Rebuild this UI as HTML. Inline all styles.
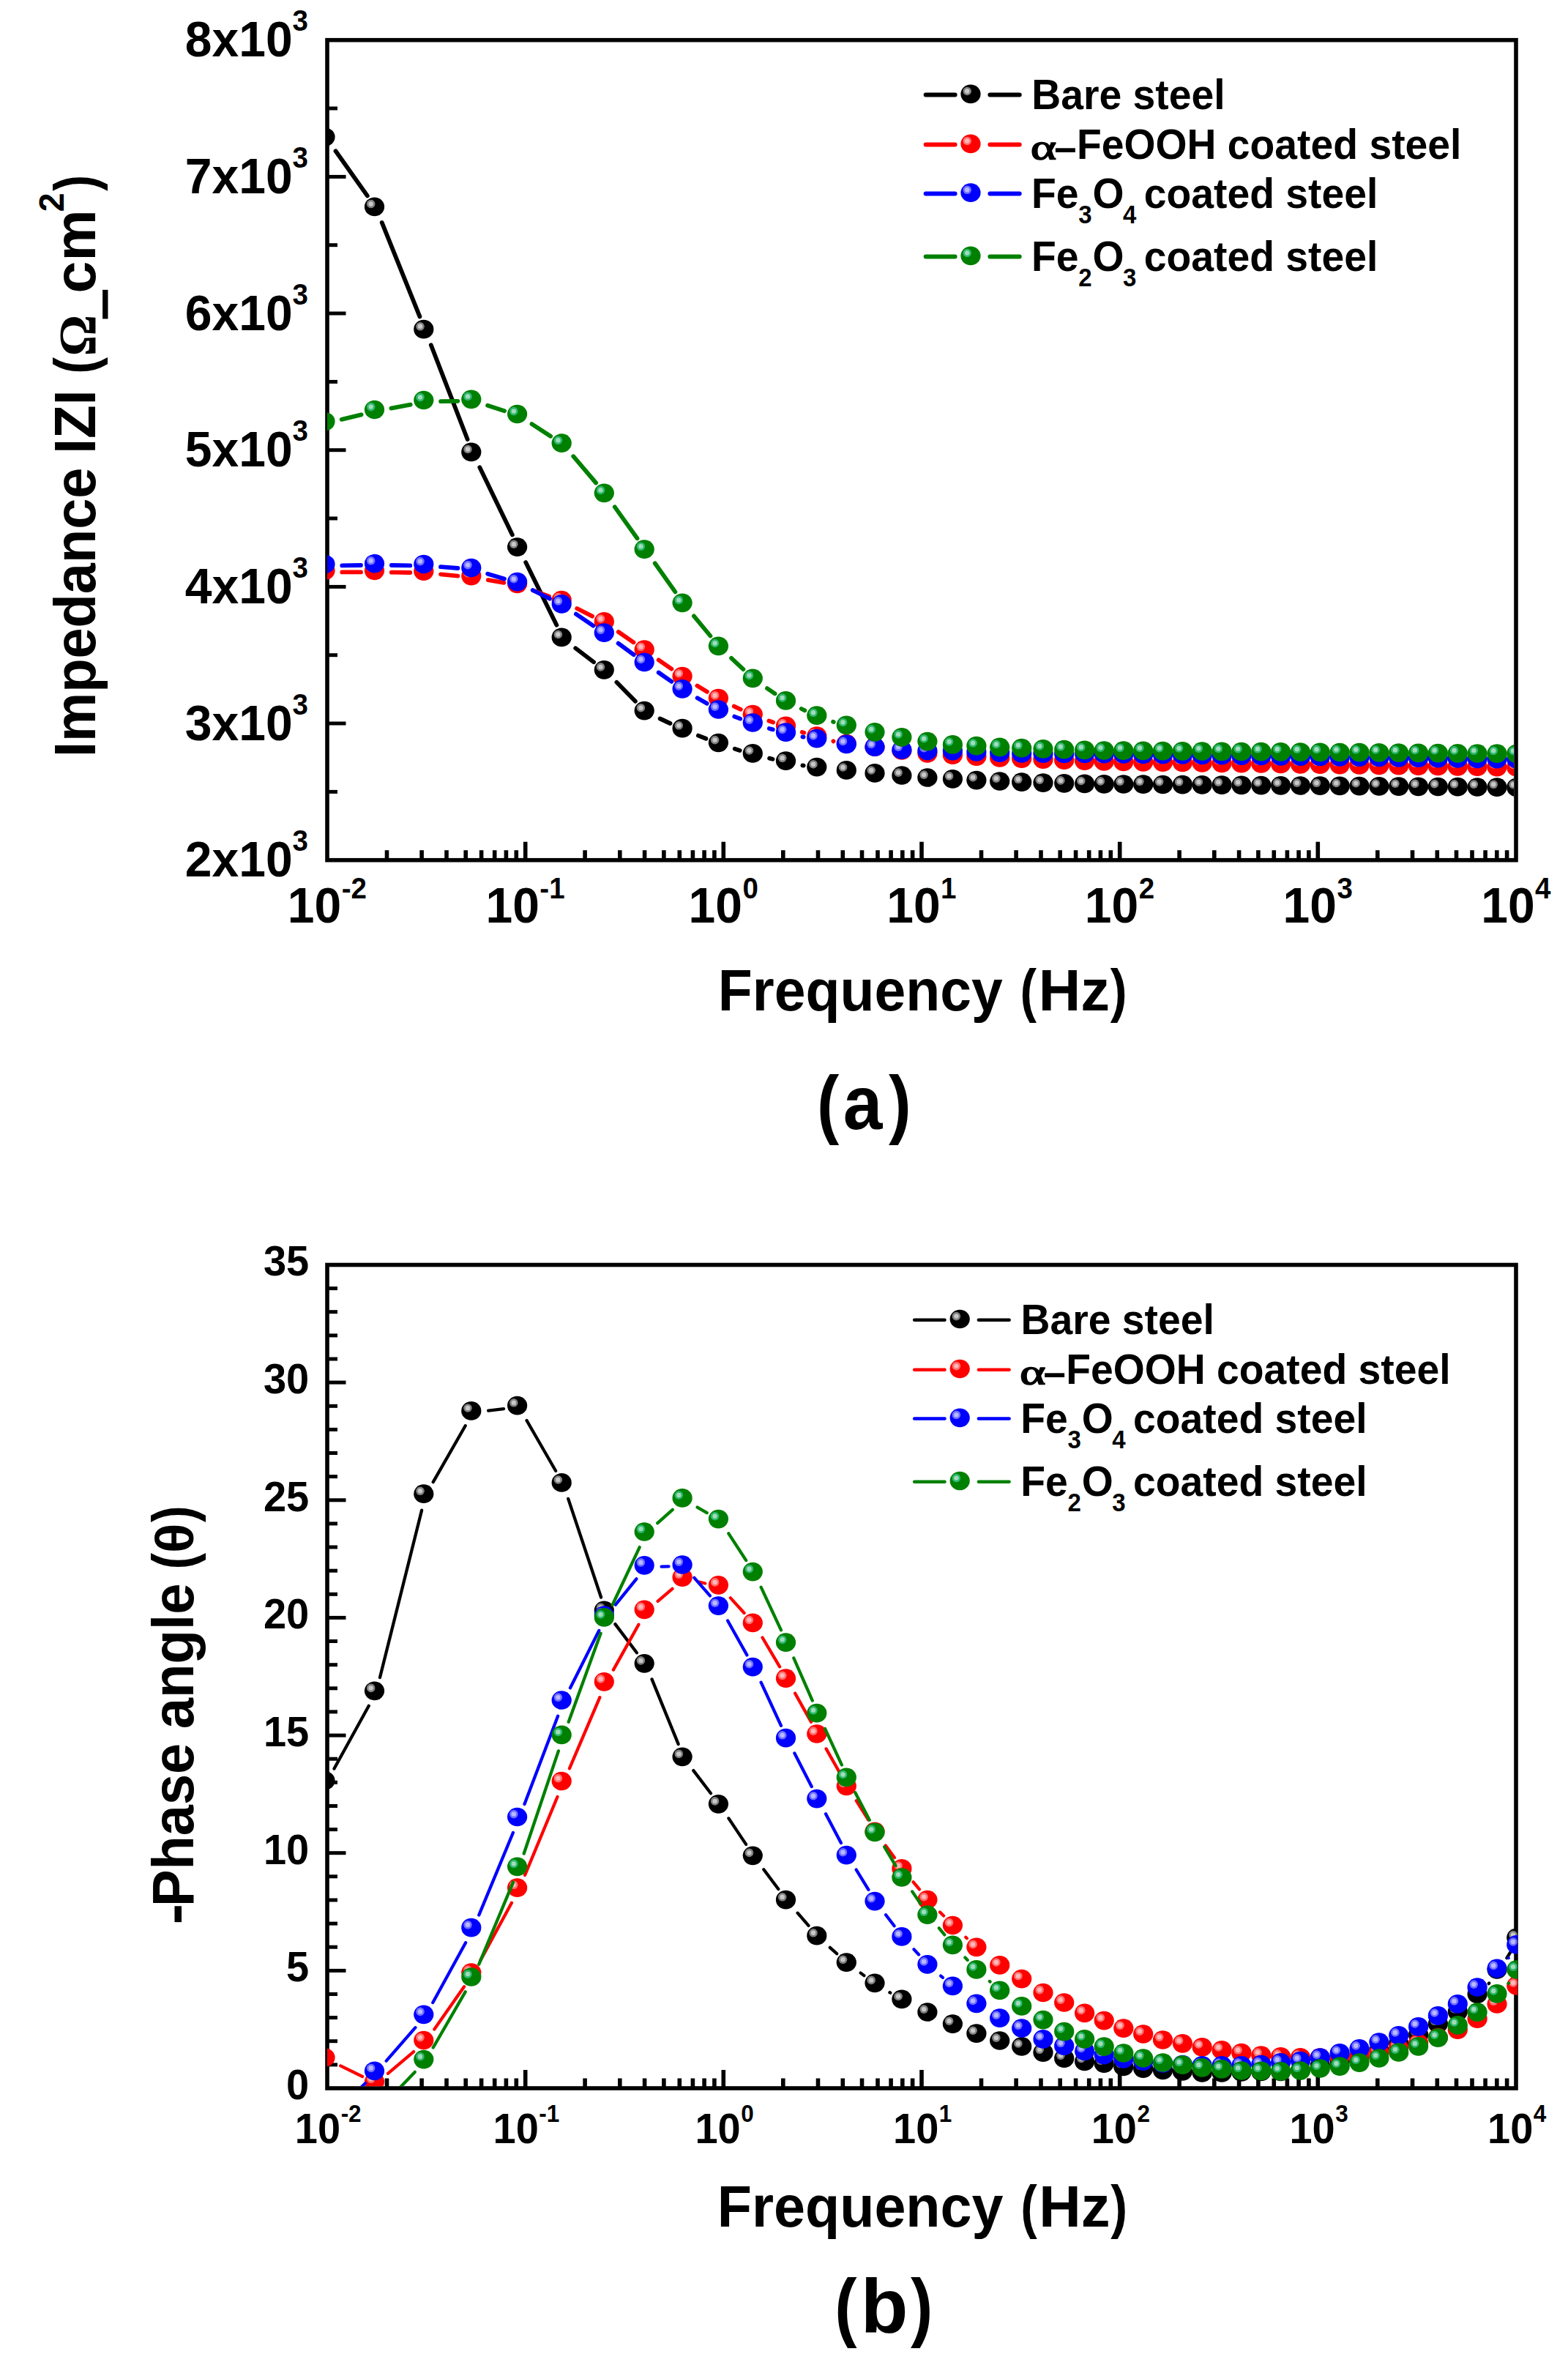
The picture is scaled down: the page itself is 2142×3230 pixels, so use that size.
<!DOCTYPE html>
<html><head><meta charset="utf-8"><title>Bode plots</title>
<style>html,body{margin:0;padding:0;background:#fff}svg{display:block}text{font-family:"Liberation Sans",sans-serif;font-weight:bold;fill:#000}.sym{font-family:"Liberation Serif",serif;font-weight:normal}</style></head><body>
<svg width="2142" height="3230" viewBox="0 0 2142 3230">
<rect x="0" y="0" width="2142" height="3230" fill="#fff"/>
<g id="plot-a">
<g stroke="#000" stroke-width="5.6" stroke-linecap="butt"><line x1="528.5" y1="1174.7" x2="528.5" y2="1161.2"/><line x1="576.1" y1="1174.7" x2="576.1" y2="1161.2"/><line x1="610.0" y1="1174.7" x2="610.0" y2="1161.2"/><line x1="636.2" y1="1174.7" x2="636.2" y2="1161.2"/><line x1="657.6" y1="1174.7" x2="657.6" y2="1161.2"/><line x1="675.7" y1="1174.7" x2="675.7" y2="1161.2"/><line x1="691.4" y1="1174.7" x2="691.4" y2="1161.2"/><line x1="705.3" y1="1174.7" x2="705.3" y2="1161.2"/><line x1="717.7" y1="1174.7" x2="717.7" y2="1149.7"/><line x1="799.1" y1="1174.7" x2="799.1" y2="1161.2"/><line x1="846.8" y1="1174.7" x2="846.8" y2="1161.2"/><line x1="880.6" y1="1174.7" x2="880.6" y2="1161.2"/><line x1="906.9" y1="1174.7" x2="906.9" y2="1161.2"/><line x1="928.3" y1="1174.7" x2="928.3" y2="1161.2"/><line x1="946.4" y1="1174.7" x2="946.4" y2="1161.2"/><line x1="962.1" y1="1174.7" x2="962.1" y2="1161.2"/><line x1="975.9" y1="1174.7" x2="975.9" y2="1161.2"/><line x1="988.3" y1="1174.7" x2="988.3" y2="1149.7"/><line x1="1069.8" y1="1174.7" x2="1069.8" y2="1161.2"/><line x1="1117.5" y1="1174.7" x2="1117.5" y2="1161.2"/><line x1="1151.3" y1="1174.7" x2="1151.3" y2="1161.2"/><line x1="1177.5" y1="1174.7" x2="1177.5" y2="1161.2"/><line x1="1199.0" y1="1174.7" x2="1199.0" y2="1161.2"/><line x1="1217.1" y1="1174.7" x2="1217.1" y2="1161.2"/><line x1="1232.8" y1="1174.7" x2="1232.8" y2="1161.2"/><line x1="1246.6" y1="1174.7" x2="1246.6" y2="1161.2"/><line x1="1259.0" y1="1174.7" x2="1259.0" y2="1149.7"/><line x1="1340.5" y1="1174.7" x2="1340.5" y2="1161.2"/><line x1="1388.1" y1="1174.7" x2="1388.1" y2="1161.2"/><line x1="1422.0" y1="1174.7" x2="1422.0" y2="1161.2"/><line x1="1448.2" y1="1174.7" x2="1448.2" y2="1161.2"/><line x1="1469.6" y1="1174.7" x2="1469.6" y2="1161.2"/><line x1="1487.7" y1="1174.7" x2="1487.7" y2="1161.2"/><line x1="1503.4" y1="1174.7" x2="1503.4" y2="1161.2"/><line x1="1517.3" y1="1174.7" x2="1517.3" y2="1161.2"/><line x1="1529.7" y1="1174.7" x2="1529.7" y2="1149.7"/><line x1="1611.1" y1="1174.7" x2="1611.1" y2="1161.2"/><line x1="1658.8" y1="1174.7" x2="1658.8" y2="1161.2"/><line x1="1692.6" y1="1174.7" x2="1692.6" y2="1161.2"/><line x1="1718.9" y1="1174.7" x2="1718.9" y2="1161.2"/><line x1="1740.3" y1="1174.7" x2="1740.3" y2="1161.2"/><line x1="1758.4" y1="1174.7" x2="1758.4" y2="1161.2"/><line x1="1774.1" y1="1174.7" x2="1774.1" y2="1161.2"/><line x1="1787.9" y1="1174.7" x2="1787.9" y2="1161.2"/><line x1="1800.3" y1="1174.7" x2="1800.3" y2="1149.7"/><line x1="1881.8" y1="1174.7" x2="1881.8" y2="1161.2"/><line x1="1929.5" y1="1174.7" x2="1929.5" y2="1161.2"/><line x1="1963.3" y1="1174.7" x2="1963.3" y2="1161.2"/><line x1="1989.5" y1="1174.7" x2="1989.5" y2="1161.2"/><line x1="2011.0" y1="1174.7" x2="2011.0" y2="1161.2"/><line x1="2029.1" y1="1174.7" x2="2029.1" y2="1161.2"/><line x1="2044.8" y1="1174.7" x2="2044.8" y2="1161.2"/><line x1="2058.6" y1="1174.7" x2="2058.6" y2="1161.2"/><line x1="447" y1="148.0" x2="461.0" y2="148.0" stroke-width="5"/><line x1="447" y1="241.4" x2="472.5" y2="241.4" stroke-width="5"/><line x1="447" y1="334.7" x2="461.0" y2="334.7" stroke-width="5"/><line x1="447" y1="428.0" x2="472.5" y2="428.0" stroke-width="5"/><line x1="447" y1="521.4" x2="461.0" y2="521.4" stroke-width="5"/><line x1="447" y1="614.7" x2="472.5" y2="614.7" stroke-width="5"/><line x1="447" y1="708.0" x2="461.0" y2="708.0" stroke-width="5"/><line x1="447" y1="801.4" x2="472.5" y2="801.4" stroke-width="5"/><line x1="447" y1="894.7" x2="461.0" y2="894.7" stroke-width="5"/><line x1="447" y1="988.0" x2="472.5" y2="988.0" stroke-width="5"/><line x1="447" y1="1081.4" x2="461.0" y2="1081.4" stroke-width="5"/></g>
<rect x="447" y="54.7" width="1624" height="1120.0" fill="none" stroke="#000" stroke-width="5.6"/>
<clipPath id="ca"><rect x="446.9" y="54.2" width="1621.2" height="1117.7"/></clipPath>
<g clip-path="url(#ca)">
<g stroke="#000000" stroke-width="5.8" stroke-linecap="round" fill="none"><path d="M458.5 206.3L501.8 267.4M521.7 303.9L573.4 432.4M588.8 471.3L638.6 600.0M655.3 638.3L699.9 730.4M718.2 768.0L760.4 853.7M786.2 885.2L811.1 904.2M842.4 931.8L867.9 957.8M901.6 981.5L915.5 988.0M953.9 1004.6L964.4 1008.8M1003.8 1022.7L1010.7 1024.9M1051.1 1035.6L1055.5 1036.7M1096.4 1045.4L1097.7 1045.6"/></g><g><ellipse cx="444.0" cy="187.1" rx="13.6" ry="12.85" fill="#000000"/><circle cx="439.2" cy="183.2" r="5.8" fill="#808080"/><circle cx="439.2" cy="183.2" r="3.2" fill="#c8c8c8"/><ellipse cx="511.5" cy="282.4" rx="13.6" ry="12.85" fill="#000000"/><circle cx="506.7" cy="278.5" r="5.8" fill="#808080"/><circle cx="506.7" cy="278.5" r="3.2" fill="#c8c8c8"/><ellipse cx="578.8" cy="449.7" rx="13.6" ry="12.85" fill="#000000"/><circle cx="574.0" cy="445.8" r="5.8" fill="#808080"/><circle cx="574.0" cy="445.8" r="3.2" fill="#c8c8c8"/><ellipse cx="643.8" cy="617.4" rx="13.6" ry="12.85" fill="#000000"/><circle cx="639.0" cy="613.5" r="5.8" fill="#808080"/><circle cx="639.0" cy="613.5" r="3.2" fill="#c8c8c8"/><ellipse cx="706.6" cy="747.1" rx="13.6" ry="12.85" fill="#000000"/><circle cx="701.8" cy="743.2" r="5.8" fill="#808080"/><circle cx="701.8" cy="743.2" r="3.2" fill="#c8c8c8"/><ellipse cx="767.2" cy="870.4" rx="13.6" ry="12.85" fill="#000000"/><circle cx="762.4" cy="866.5" r="5.8" fill="#808080"/><circle cx="762.4" cy="866.5" r="3.2" fill="#c8c8c8"/><ellipse cx="825.3" cy="914.8" rx="13.6" ry="12.85" fill="#000000"/><circle cx="820.5" cy="910.9" r="5.8" fill="#808080"/><circle cx="820.5" cy="910.9" r="3.2" fill="#c8c8c8"/><ellipse cx="880.2" cy="970.6" rx="13.6" ry="12.85" fill="#000000"/><circle cx="875.4" cy="966.7" r="5.8" fill="#808080"/><circle cx="875.4" cy="966.7" r="3.2" fill="#c8c8c8"/><ellipse cx="932.1" cy="994.7" rx="13.6" ry="12.85" fill="#000000"/><circle cx="927.3" cy="990.8" r="5.8" fill="#808080"/><circle cx="927.3" cy="990.8" r="3.2" fill="#c8c8c8"/><ellipse cx="981.4" cy="1014.5" rx="13.6" ry="12.85" fill="#000000"/><circle cx="976.6" cy="1010.6" r="5.8" fill="#808080"/><circle cx="976.6" cy="1010.6" r="3.2" fill="#c8c8c8"/><ellipse cx="1028.3" cy="1028.9" rx="13.6" ry="12.85" fill="#000000"/><circle cx="1023.5" cy="1025.0" r="5.8" fill="#808080"/><circle cx="1023.5" cy="1025.0" r="3.2" fill="#c8c8c8"/><ellipse cx="1073.5" cy="1039.2" rx="13.6" ry="12.85" fill="#000000"/><circle cx="1068.7" cy="1035.3" r="5.8" fill="#808080"/><circle cx="1068.7" cy="1035.3" r="3.2" fill="#c8c8c8"/><ellipse cx="1115.8" cy="1047.6" rx="13.6" ry="12.85" fill="#000000"/><circle cx="1111.0" cy="1043.7" r="5.8" fill="#808080"/><circle cx="1111.0" cy="1043.7" r="3.2" fill="#c8c8c8"/><ellipse cx="1156.3" cy="1051.9" rx="13.6" ry="12.85" fill="#000000"/><circle cx="1151.5" cy="1048.0" r="5.8" fill="#808080"/><circle cx="1151.5" cy="1048.0" r="3.2" fill="#c8c8c8"/><ellipse cx="1195.0" cy="1055.9" rx="13.6" ry="12.85" fill="#000000"/><circle cx="1190.2" cy="1052.0" r="5.8" fill="#808080"/><circle cx="1190.2" cy="1052.0" r="3.2" fill="#c8c8c8"/><ellipse cx="1231.9" cy="1059.0" rx="13.6" ry="12.85" fill="#000000"/><circle cx="1227.1" cy="1055.1" r="5.8" fill="#808080"/><circle cx="1227.1" cy="1055.1" r="3.2" fill="#c8c8c8"/><ellipse cx="1266.9" cy="1062.0" rx="13.6" ry="12.85" fill="#000000"/><circle cx="1262.1" cy="1058.1" r="5.8" fill="#808080"/><circle cx="1262.1" cy="1058.1" r="3.2" fill="#c8c8c8"/><ellipse cx="1301.4" cy="1063.8" rx="13.6" ry="12.85" fill="#000000"/><circle cx="1296.6" cy="1059.9" r="5.8" fill="#808080"/><circle cx="1296.6" cy="1059.9" r="3.2" fill="#c8c8c8"/><ellipse cx="1333.9" cy="1065.6" rx="13.6" ry="12.85" fill="#000000"/><circle cx="1329.1" cy="1061.7" r="5.8" fill="#808080"/><circle cx="1329.1" cy="1061.7" r="3.2" fill="#c8c8c8"/><ellipse cx="1365.7" cy="1067.0" rx="13.6" ry="12.85" fill="#000000"/><circle cx="1360.9" cy="1063.1" r="5.8" fill="#808080"/><circle cx="1360.9" cy="1063.1" r="3.2" fill="#c8c8c8"/><ellipse cx="1395.7" cy="1068.2" rx="13.6" ry="12.85" fill="#000000"/><circle cx="1390.9" cy="1064.3" r="5.8" fill="#808080"/><circle cx="1390.9" cy="1064.3" r="3.2" fill="#c8c8c8"/><ellipse cx="1425.0" cy="1069.1" rx="13.6" ry="12.85" fill="#000000"/><circle cx="1420.2" cy="1065.2" r="5.8" fill="#808080"/><circle cx="1420.2" cy="1065.2" r="3.2" fill="#c8c8c8"/><ellipse cx="1453.7" cy="1069.8" rx="13.6" ry="12.85" fill="#000000"/><circle cx="1448.9" cy="1065.9" r="5.8" fill="#808080"/><circle cx="1448.9" cy="1065.9" r="3.2" fill="#c8c8c8"/><ellipse cx="1481.6" cy="1070.4" rx="13.6" ry="12.85" fill="#000000"/><circle cx="1476.8" cy="1066.5" r="5.8" fill="#808080"/><circle cx="1476.8" cy="1066.5" r="3.2" fill="#c8c8c8"/><ellipse cx="1508.2" cy="1070.8" rx="13.6" ry="12.85" fill="#000000"/><circle cx="1503.4" cy="1066.9" r="5.8" fill="#808080"/><circle cx="1503.4" cy="1066.9" r="3.2" fill="#c8c8c8"/><ellipse cx="1534.8" cy="1071.0" rx="13.6" ry="12.85" fill="#000000"/><circle cx="1530.0" cy="1067.1" r="5.8" fill="#808080"/><circle cx="1530.0" cy="1067.1" r="3.2" fill="#c8c8c8"/><ellipse cx="1561.7" cy="1071.2" rx="13.6" ry="12.85" fill="#000000"/><circle cx="1556.9" cy="1067.3" r="5.8" fill="#808080"/><circle cx="1556.9" cy="1067.3" r="3.2" fill="#c8c8c8"/><ellipse cx="1588.5" cy="1071.5" rx="13.6" ry="12.85" fill="#000000"/><circle cx="1583.7" cy="1067.6" r="5.8" fill="#808080"/><circle cx="1583.7" cy="1067.6" r="3.2" fill="#c8c8c8"/><ellipse cx="1615.4" cy="1071.7" rx="13.6" ry="12.85" fill="#000000"/><circle cx="1610.6" cy="1067.8" r="5.8" fill="#808080"/><circle cx="1610.6" cy="1067.8" r="3.2" fill="#c8c8c8"/><ellipse cx="1642.2" cy="1071.9" rx="13.6" ry="12.85" fill="#000000"/><circle cx="1637.4" cy="1068.0" r="5.8" fill="#808080"/><circle cx="1637.4" cy="1068.0" r="3.2" fill="#c8c8c8"/><ellipse cx="1669.1" cy="1072.1" rx="13.6" ry="12.85" fill="#000000"/><circle cx="1664.3" cy="1068.2" r="5.8" fill="#808080"/><circle cx="1664.3" cy="1068.2" r="3.2" fill="#c8c8c8"/><ellipse cx="1695.9" cy="1072.3" rx="13.6" ry="12.85" fill="#000000"/><circle cx="1691.1" cy="1068.4" r="5.8" fill="#808080"/><circle cx="1691.1" cy="1068.4" r="3.2" fill="#c8c8c8"/><ellipse cx="1722.8" cy="1072.6" rx="13.6" ry="12.85" fill="#000000"/><circle cx="1718.0" cy="1068.7" r="5.8" fill="#808080"/><circle cx="1718.0" cy="1068.7" r="3.2" fill="#c8c8c8"/><ellipse cx="1749.6" cy="1072.8" rx="13.6" ry="12.85" fill="#000000"/><circle cx="1744.8" cy="1068.9" r="5.8" fill="#808080"/><circle cx="1744.8" cy="1068.9" r="3.2" fill="#c8c8c8"/><ellipse cx="1776.5" cy="1073.0" rx="13.6" ry="12.85" fill="#000000"/><circle cx="1771.7" cy="1069.1" r="5.8" fill="#808080"/><circle cx="1771.7" cy="1069.1" r="3.2" fill="#c8c8c8"/><ellipse cx="1803.3" cy="1073.2" rx="13.6" ry="12.85" fill="#000000"/><circle cx="1798.5" cy="1069.3" r="5.8" fill="#808080"/><circle cx="1798.5" cy="1069.3" r="3.2" fill="#c8c8c8"/><ellipse cx="1830.2" cy="1073.4" rx="13.6" ry="12.85" fill="#000000"/><circle cx="1825.4" cy="1069.5" r="5.8" fill="#808080"/><circle cx="1825.4" cy="1069.5" r="3.2" fill="#c8c8c8"/><ellipse cx="1857.0" cy="1073.6" rx="13.6" ry="12.85" fill="#000000"/><circle cx="1852.2" cy="1069.7" r="5.8" fill="#808080"/><circle cx="1852.2" cy="1069.7" r="3.2" fill="#c8c8c8"/><ellipse cx="1883.9" cy="1073.9" rx="13.6" ry="12.85" fill="#000000"/><circle cx="1879.1" cy="1070.0" r="5.8" fill="#808080"/><circle cx="1879.1" cy="1070.0" r="3.2" fill="#c8c8c8"/><ellipse cx="1910.7" cy="1074.1" rx="13.6" ry="12.85" fill="#000000"/><circle cx="1905.9" cy="1070.2" r="5.8" fill="#808080"/><circle cx="1905.9" cy="1070.2" r="3.2" fill="#c8c8c8"/><ellipse cx="1937.6" cy="1074.3" rx="13.6" ry="12.85" fill="#000000"/><circle cx="1932.8" cy="1070.4" r="5.8" fill="#808080"/><circle cx="1932.8" cy="1070.4" r="3.2" fill="#c8c8c8"/><ellipse cx="1964.4" cy="1074.5" rx="13.6" ry="12.85" fill="#000000"/><circle cx="1959.6" cy="1070.6" r="5.8" fill="#808080"/><circle cx="1959.6" cy="1070.6" r="3.2" fill="#c8c8c8"/><ellipse cx="1991.3" cy="1074.7" rx="13.6" ry="12.85" fill="#000000"/><circle cx="1986.5" cy="1070.8" r="5.8" fill="#808080"/><circle cx="1986.5" cy="1070.8" r="3.2" fill="#c8c8c8"/><ellipse cx="2018.1" cy="1075.0" rx="13.6" ry="12.85" fill="#000000"/><circle cx="2013.3" cy="1071.1" r="5.8" fill="#808080"/><circle cx="2013.3" cy="1071.1" r="3.2" fill="#c8c8c8"/><ellipse cx="2045.0" cy="1075.2" rx="13.6" ry="12.85" fill="#000000"/><circle cx="2040.2" cy="1071.3" r="5.8" fill="#808080"/><circle cx="2040.2" cy="1071.3" r="3.2" fill="#c8c8c8"/><ellipse cx="2071.8" cy="1075.4" rx="13.6" ry="12.85" fill="#000000"/><circle cx="2067.0" cy="1071.5" r="5.8" fill="#808080"/><circle cx="2067.0" cy="1071.5" r="3.2" fill="#c8c8c8"/></g>
<g stroke="#ff0000" stroke-width="5.8" stroke-linecap="round" fill="none"><path d="M467.3 781.4L493.0 781.4M534.8 781.7L560.3 782.0M602.0 784.3L625.4 786.7M666.8 792.2L688.4 795.9M728.6 806.6L750.0 814.4M788.2 831.0L809.1 841.6M844.8 863.0L865.5 877.3M899.7 901.3L917.4 913.7M952.4 936.6L965.9 944.8M1002.7 964.6L1011.8 968.8M1050.4 984.6L1056.2 986.6M1095.8 999.9L1098.3 1000.7M1138.4 1012.3L1138.5 1012.4"/></g><g><ellipse cx="444.0" cy="779.3" rx="13.6" ry="12.85" fill="#ff0000"/><circle cx="439.2" cy="775.4" r="5.8" fill="#ff7070"/><circle cx="439.2" cy="775.4" r="3.2" fill="#ffb8b8"/><ellipse cx="511.5" cy="779.3" rx="13.6" ry="12.85" fill="#ff0000"/><circle cx="506.7" cy="775.4" r="5.8" fill="#ff7070"/><circle cx="506.7" cy="775.4" r="3.2" fill="#ffb8b8"/><ellipse cx="578.8" cy="780.2" rx="13.6" ry="12.85" fill="#ff0000"/><circle cx="574.0" cy="776.3" r="5.8" fill="#ff7070"/><circle cx="574.0" cy="776.3" r="3.2" fill="#ffb8b8"/><ellipse cx="643.8" cy="786.6" rx="13.6" ry="12.85" fill="#ff0000"/><circle cx="639.0" cy="782.7" r="5.8" fill="#ff7070"/><circle cx="639.0" cy="782.7" r="3.2" fill="#ffb8b8"/><ellipse cx="706.6" cy="797.3" rx="13.6" ry="12.85" fill="#ff0000"/><circle cx="701.8" cy="793.4" r="5.8" fill="#ff7070"/><circle cx="701.8" cy="793.4" r="3.2" fill="#ffb8b8"/><ellipse cx="767.2" cy="819.5" rx="13.6" ry="12.85" fill="#ff0000"/><circle cx="762.4" cy="815.6" r="5.8" fill="#ff7070"/><circle cx="762.4" cy="815.6" r="3.2" fill="#ffb8b8"/><ellipse cx="825.3" cy="848.9" rx="13.6" ry="12.85" fill="#ff0000"/><circle cx="820.5" cy="845.0" r="5.8" fill="#ff7070"/><circle cx="820.5" cy="845.0" r="3.2" fill="#ffb8b8"/><ellipse cx="880.2" cy="887.2" rx="13.6" ry="12.85" fill="#ff0000"/><circle cx="875.4" cy="883.3" r="5.8" fill="#ff7070"/><circle cx="875.4" cy="883.3" r="3.2" fill="#ffb8b8"/><ellipse cx="932.1" cy="923.6" rx="13.6" ry="12.85" fill="#ff0000"/><circle cx="927.3" cy="919.7" r="5.8" fill="#ff7070"/><circle cx="927.3" cy="919.7" r="3.2" fill="#ffb8b8"/><ellipse cx="981.4" cy="953.6" rx="13.6" ry="12.85" fill="#ff0000"/><circle cx="976.6" cy="949.7" r="5.8" fill="#ff7070"/><circle cx="976.6" cy="949.7" r="3.2" fill="#ffb8b8"/><ellipse cx="1028.3" cy="975.6" rx="13.6" ry="12.85" fill="#ff0000"/><circle cx="1023.5" cy="971.7" r="5.8" fill="#ff7070"/><circle cx="1023.5" cy="971.7" r="3.2" fill="#ffb8b8"/><ellipse cx="1073.5" cy="991.4" rx="13.6" ry="12.85" fill="#ff0000"/><circle cx="1068.7" cy="987.5" r="5.8" fill="#ff7070"/><circle cx="1068.7" cy="987.5" r="3.2" fill="#ffb8b8"/><ellipse cx="1115.8" cy="1005.0" rx="13.6" ry="12.85" fill="#ff0000"/><circle cx="1111.0" cy="1001.1" r="5.8" fill="#ff7070"/><circle cx="1111.0" cy="1001.1" r="3.2" fill="#ffb8b8"/><ellipse cx="1156.3" cy="1015.5" rx="13.6" ry="12.85" fill="#ff0000"/><circle cx="1151.5" cy="1011.6" r="5.8" fill="#ff7070"/><circle cx="1151.5" cy="1011.6" r="3.2" fill="#ffb8b8"/><ellipse cx="1195.0" cy="1020.2" rx="13.6" ry="12.85" fill="#ff0000"/><circle cx="1190.2" cy="1016.3" r="5.8" fill="#ff7070"/><circle cx="1190.2" cy="1016.3" r="3.2" fill="#ffb8b8"/><ellipse cx="1231.9" cy="1025.0" rx="13.6" ry="12.85" fill="#ff0000"/><circle cx="1227.1" cy="1021.1" r="5.8" fill="#ff7070"/><circle cx="1227.1" cy="1021.1" r="3.2" fill="#ffb8b8"/><ellipse cx="1266.9" cy="1028.8" rx="13.6" ry="12.85" fill="#ff0000"/><circle cx="1262.1" cy="1024.9" r="5.8" fill="#ff7070"/><circle cx="1262.1" cy="1024.9" r="3.2" fill="#ffb8b8"/><ellipse cx="1301.4" cy="1031.2" rx="13.6" ry="12.85" fill="#ff0000"/><circle cx="1296.6" cy="1027.3" r="5.8" fill="#ff7070"/><circle cx="1296.6" cy="1027.3" r="3.2" fill="#ffb8b8"/><ellipse cx="1333.9" cy="1033.2" rx="13.6" ry="12.85" fill="#ff0000"/><circle cx="1329.1" cy="1029.3" r="5.8" fill="#ff7070"/><circle cx="1329.1" cy="1029.3" r="3.2" fill="#ffb8b8"/><ellipse cx="1365.7" cy="1034.9" rx="13.6" ry="12.85" fill="#ff0000"/><circle cx="1360.9" cy="1031.0" r="5.8" fill="#ff7070"/><circle cx="1360.9" cy="1031.0" r="3.2" fill="#ffb8b8"/><ellipse cx="1395.7" cy="1036.1" rx="13.6" ry="12.85" fill="#ff0000"/><circle cx="1390.9" cy="1032.2" r="5.8" fill="#ff7070"/><circle cx="1390.9" cy="1032.2" r="3.2" fill="#ffb8b8"/><ellipse cx="1425.0" cy="1037.2" rx="13.6" ry="12.85" fill="#ff0000"/><circle cx="1420.2" cy="1033.3" r="5.8" fill="#ff7070"/><circle cx="1420.2" cy="1033.3" r="3.2" fill="#ffb8b8"/><ellipse cx="1453.7" cy="1038.2" rx="13.6" ry="12.85" fill="#ff0000"/><circle cx="1448.9" cy="1034.3" r="5.8" fill="#ff7070"/><circle cx="1448.9" cy="1034.3" r="3.2" fill="#ffb8b8"/><ellipse cx="1481.6" cy="1039.1" rx="13.6" ry="12.85" fill="#ff0000"/><circle cx="1476.8" cy="1035.2" r="5.8" fill="#ff7070"/><circle cx="1476.8" cy="1035.2" r="3.2" fill="#ffb8b8"/><ellipse cx="1508.2" cy="1040.0" rx="13.6" ry="12.85" fill="#ff0000"/><circle cx="1503.4" cy="1036.1" r="5.8" fill="#ff7070"/><circle cx="1503.4" cy="1036.1" r="3.2" fill="#ffb8b8"/><ellipse cx="1534.8" cy="1040.4" rx="13.6" ry="12.85" fill="#ff0000"/><circle cx="1530.0" cy="1036.5" r="5.8" fill="#ff7070"/><circle cx="1530.0" cy="1036.5" r="3.2" fill="#ffb8b8"/><ellipse cx="1561.7" cy="1040.8" rx="13.6" ry="12.85" fill="#ff0000"/><circle cx="1556.9" cy="1036.9" r="5.8" fill="#ff7070"/><circle cx="1556.9" cy="1036.9" r="3.2" fill="#ffb8b8"/><ellipse cx="1588.5" cy="1041.1" rx="13.6" ry="12.85" fill="#ff0000"/><circle cx="1583.7" cy="1037.2" r="5.8" fill="#ff7070"/><circle cx="1583.7" cy="1037.2" r="3.2" fill="#ffb8b8"/><ellipse cx="1615.4" cy="1041.5" rx="13.6" ry="12.85" fill="#ff0000"/><circle cx="1610.6" cy="1037.6" r="5.8" fill="#ff7070"/><circle cx="1610.6" cy="1037.6" r="3.2" fill="#ffb8b8"/><ellipse cx="1642.2" cy="1041.9" rx="13.6" ry="12.85" fill="#ff0000"/><circle cx="1637.4" cy="1038.0" r="5.8" fill="#ff7070"/><circle cx="1637.4" cy="1038.0" r="3.2" fill="#ffb8b8"/><ellipse cx="1669.1" cy="1042.3" rx="13.6" ry="12.85" fill="#ff0000"/><circle cx="1664.3" cy="1038.4" r="5.8" fill="#ff7070"/><circle cx="1664.3" cy="1038.4" r="3.2" fill="#ffb8b8"/><ellipse cx="1695.9" cy="1042.7" rx="13.6" ry="12.85" fill="#ff0000"/><circle cx="1691.1" cy="1038.8" r="5.8" fill="#ff7070"/><circle cx="1691.1" cy="1038.8" r="3.2" fill="#ffb8b8"/><ellipse cx="1722.8" cy="1043.0" rx="13.6" ry="12.85" fill="#ff0000"/><circle cx="1718.0" cy="1039.1" r="5.8" fill="#ff7070"/><circle cx="1718.0" cy="1039.1" r="3.2" fill="#ffb8b8"/><ellipse cx="1749.6" cy="1043.4" rx="13.6" ry="12.85" fill="#ff0000"/><circle cx="1744.8" cy="1039.5" r="5.8" fill="#ff7070"/><circle cx="1744.8" cy="1039.5" r="3.2" fill="#ffb8b8"/><ellipse cx="1776.5" cy="1043.8" rx="13.6" ry="12.85" fill="#ff0000"/><circle cx="1771.7" cy="1039.9" r="5.8" fill="#ff7070"/><circle cx="1771.7" cy="1039.9" r="3.2" fill="#ffb8b8"/><ellipse cx="1803.3" cy="1044.2" rx="13.6" ry="12.85" fill="#ff0000"/><circle cx="1798.5" cy="1040.3" r="5.8" fill="#ff7070"/><circle cx="1798.5" cy="1040.3" r="3.2" fill="#ffb8b8"/><ellipse cx="1830.2" cy="1044.6" rx="13.6" ry="12.85" fill="#ff0000"/><circle cx="1825.4" cy="1040.7" r="5.8" fill="#ff7070"/><circle cx="1825.4" cy="1040.7" r="3.2" fill="#ffb8b8"/><ellipse cx="1857.0" cy="1045.0" rx="13.6" ry="12.85" fill="#ff0000"/><circle cx="1852.2" cy="1041.1" r="5.8" fill="#ff7070"/><circle cx="1852.2" cy="1041.1" r="3.2" fill="#ffb8b8"/><ellipse cx="1883.9" cy="1045.3" rx="13.6" ry="12.85" fill="#ff0000"/><circle cx="1879.1" cy="1041.4" r="5.8" fill="#ff7070"/><circle cx="1879.1" cy="1041.4" r="3.2" fill="#ffb8b8"/><ellipse cx="1910.7" cy="1045.7" rx="13.6" ry="12.85" fill="#ff0000"/><circle cx="1905.9" cy="1041.8" r="5.8" fill="#ff7070"/><circle cx="1905.9" cy="1041.8" r="3.2" fill="#ffb8b8"/><ellipse cx="1937.6" cy="1046.1" rx="13.6" ry="12.85" fill="#ff0000"/><circle cx="1932.8" cy="1042.2" r="5.8" fill="#ff7070"/><circle cx="1932.8" cy="1042.2" r="3.2" fill="#ffb8b8"/><ellipse cx="1964.4" cy="1046.5" rx="13.6" ry="12.85" fill="#ff0000"/><circle cx="1959.6" cy="1042.6" r="5.8" fill="#ff7070"/><circle cx="1959.6" cy="1042.6" r="3.2" fill="#ffb8b8"/><ellipse cx="1991.3" cy="1046.9" rx="13.6" ry="12.85" fill="#ff0000"/><circle cx="1986.5" cy="1043.0" r="5.8" fill="#ff7070"/><circle cx="1986.5" cy="1043.0" r="3.2" fill="#ffb8b8"/><ellipse cx="2018.1" cy="1047.2" rx="13.6" ry="12.85" fill="#ff0000"/><circle cx="2013.3" cy="1043.3" r="5.8" fill="#ff7070"/><circle cx="2013.3" cy="1043.3" r="3.2" fill="#ffb8b8"/><ellipse cx="2045.0" cy="1047.6" rx="13.6" ry="12.85" fill="#ff0000"/><circle cx="2040.2" cy="1043.7" r="5.8" fill="#ff7070"/><circle cx="2040.2" cy="1043.7" r="3.2" fill="#ffb8b8"/><ellipse cx="2071.8" cy="1048.0" rx="13.6" ry="12.85" fill="#ff0000"/><circle cx="2067.0" cy="1044.1" r="5.8" fill="#ff7070"/><circle cx="2067.0" cy="1044.1" r="3.2" fill="#ffb8b8"/></g>
<g stroke="#0000ff" stroke-width="5.8" stroke-linecap="round" fill="none"><path d="M467.3 772.4L493.0 772.0M534.8 772.0L560.3 772.4M602.0 774.2L625.4 776.0M666.2 783.7L689.0 790.6M727.7 806.0L750.9 817.6M786.9 838.6L810.4 854.6M844.6 878.6L865.7 894.2M899.7 918.5L917.4 930.9M952.6 953.3L965.7 960.7M1003.3 978.6L1011.2 981.6M1050.8 995.0L1055.8 996.4M1096.4 1006.4L1097.7 1006.6"/></g><g><ellipse cx="444.0" cy="770.5" rx="13.6" ry="12.85" fill="#0000ff"/><circle cx="439.2" cy="766.6" r="5.8" fill="#7070ff"/><circle cx="439.2" cy="766.6" r="3.2" fill="#b8b8ff"/><ellipse cx="511.5" cy="769.7" rx="13.6" ry="12.85" fill="#0000ff"/><circle cx="506.7" cy="765.8" r="5.8" fill="#7070ff"/><circle cx="506.7" cy="765.8" r="3.2" fill="#b8b8ff"/><ellipse cx="578.8" cy="770.5" rx="13.6" ry="12.85" fill="#0000ff"/><circle cx="574.0" cy="766.6" r="5.8" fill="#7070ff"/><circle cx="574.0" cy="766.6" r="3.2" fill="#b8b8ff"/><ellipse cx="643.8" cy="775.5" rx="13.6" ry="12.85" fill="#0000ff"/><circle cx="639.0" cy="771.6" r="5.8" fill="#7070ff"/><circle cx="639.0" cy="771.6" r="3.2" fill="#b8b8ff"/><ellipse cx="706.6" cy="794.6" rx="13.6" ry="12.85" fill="#0000ff"/><circle cx="701.8" cy="790.7" r="5.8" fill="#7070ff"/><circle cx="701.8" cy="790.7" r="3.2" fill="#b8b8ff"/><ellipse cx="767.2" cy="824.8" rx="13.6" ry="12.85" fill="#0000ff"/><circle cx="762.4" cy="820.9" r="5.8" fill="#7070ff"/><circle cx="762.4" cy="820.9" r="3.2" fill="#b8b8ff"/><ellipse cx="825.3" cy="864.2" rx="13.6" ry="12.85" fill="#0000ff"/><circle cx="820.5" cy="860.3" r="5.8" fill="#7070ff"/><circle cx="820.5" cy="860.3" r="3.2" fill="#b8b8ff"/><ellipse cx="880.2" cy="904.4" rx="13.6" ry="12.85" fill="#0000ff"/><circle cx="875.4" cy="900.5" r="5.8" fill="#7070ff"/><circle cx="875.4" cy="900.5" r="3.2" fill="#b8b8ff"/><ellipse cx="932.1" cy="940.8" rx="13.6" ry="12.85" fill="#0000ff"/><circle cx="927.3" cy="936.9" r="5.8" fill="#7070ff"/><circle cx="927.3" cy="936.9" r="3.2" fill="#b8b8ff"/><ellipse cx="981.4" cy="969.0" rx="13.6" ry="12.85" fill="#0000ff"/><circle cx="976.6" cy="965.1" r="5.8" fill="#7070ff"/><circle cx="976.6" cy="965.1" r="3.2" fill="#b8b8ff"/><ellipse cx="1028.3" cy="987.0" rx="13.6" ry="12.85" fill="#0000ff"/><circle cx="1023.5" cy="983.1" r="5.8" fill="#7070ff"/><circle cx="1023.5" cy="983.1" r="3.2" fill="#b8b8ff"/><ellipse cx="1073.5" cy="1000.2" rx="13.6" ry="12.85" fill="#0000ff"/><circle cx="1068.7" cy="996.3" r="5.8" fill="#7070ff"/><circle cx="1068.7" cy="996.3" r="3.2" fill="#b8b8ff"/><ellipse cx="1115.8" cy="1008.6" rx="13.6" ry="12.85" fill="#0000ff"/><circle cx="1111.0" cy="1004.7" r="5.8" fill="#7070ff"/><circle cx="1111.0" cy="1004.7" r="3.2" fill="#b8b8ff"/><ellipse cx="1156.3" cy="1016.3" rx="13.6" ry="12.85" fill="#0000ff"/><circle cx="1151.5" cy="1012.4" r="5.8" fill="#7070ff"/><circle cx="1151.5" cy="1012.4" r="3.2" fill="#b8b8ff"/><ellipse cx="1195.0" cy="1020.2" rx="13.6" ry="12.85" fill="#0000ff"/><circle cx="1190.2" cy="1016.3" r="5.8" fill="#7070ff"/><circle cx="1190.2" cy="1016.3" r="3.2" fill="#b8b8ff"/><ellipse cx="1231.9" cy="1024.0" rx="13.6" ry="12.85" fill="#0000ff"/><circle cx="1227.1" cy="1020.1" r="5.8" fill="#7070ff"/><circle cx="1227.1" cy="1020.1" r="3.2" fill="#b8b8ff"/><ellipse cx="1266.9" cy="1025.5" rx="13.6" ry="12.85" fill="#0000ff"/><circle cx="1262.1" cy="1021.6" r="5.8" fill="#7070ff"/><circle cx="1262.1" cy="1021.6" r="3.2" fill="#b8b8ff"/><ellipse cx="1301.4" cy="1025.6" rx="13.6" ry="12.85" fill="#0000ff"/><circle cx="1296.6" cy="1021.7" r="5.8" fill="#7070ff"/><circle cx="1296.6" cy="1021.7" r="3.2" fill="#b8b8ff"/><ellipse cx="1333.9" cy="1026.9" rx="13.6" ry="12.85" fill="#0000ff"/><circle cx="1329.1" cy="1023.0" r="5.8" fill="#7070ff"/><circle cx="1329.1" cy="1023.0" r="3.2" fill="#b8b8ff"/><ellipse cx="1365.7" cy="1028.1" rx="13.6" ry="12.85" fill="#0000ff"/><circle cx="1360.9" cy="1024.2" r="5.8" fill="#7070ff"/><circle cx="1360.9" cy="1024.2" r="3.2" fill="#b8b8ff"/><ellipse cx="1395.7" cy="1028.9" rx="13.6" ry="12.85" fill="#0000ff"/><circle cx="1390.9" cy="1025.0" r="5.8" fill="#7070ff"/><circle cx="1390.9" cy="1025.0" r="3.2" fill="#b8b8ff"/><ellipse cx="1425.0" cy="1029.2" rx="13.6" ry="12.85" fill="#0000ff"/><circle cx="1420.2" cy="1025.3" r="5.8" fill="#7070ff"/><circle cx="1420.2" cy="1025.3" r="3.2" fill="#b8b8ff"/><ellipse cx="1453.7" cy="1029.4" rx="13.6" ry="12.85" fill="#0000ff"/><circle cx="1448.9" cy="1025.5" r="5.8" fill="#7070ff"/><circle cx="1448.9" cy="1025.5" r="3.2" fill="#b8b8ff"/><ellipse cx="1481.6" cy="1029.5" rx="13.6" ry="12.85" fill="#0000ff"/><circle cx="1476.8" cy="1025.6" r="5.8" fill="#7070ff"/><circle cx="1476.8" cy="1025.6" r="3.2" fill="#b8b8ff"/><ellipse cx="1508.2" cy="1029.6" rx="13.6" ry="12.85" fill="#0000ff"/><circle cx="1503.4" cy="1025.7" r="5.8" fill="#7070ff"/><circle cx="1503.4" cy="1025.7" r="3.2" fill="#b8b8ff"/><ellipse cx="1534.8" cy="1030.0" rx="13.6" ry="12.85" fill="#0000ff"/><circle cx="1530.0" cy="1026.1" r="5.8" fill="#7070ff"/><circle cx="1530.0" cy="1026.1" r="3.2" fill="#b8b8ff"/><ellipse cx="1561.7" cy="1030.3" rx="13.6" ry="12.85" fill="#0000ff"/><circle cx="1556.9" cy="1026.4" r="5.8" fill="#7070ff"/><circle cx="1556.9" cy="1026.4" r="3.2" fill="#b8b8ff"/><ellipse cx="1588.5" cy="1030.7" rx="13.6" ry="12.85" fill="#0000ff"/><circle cx="1583.7" cy="1026.8" r="5.8" fill="#7070ff"/><circle cx="1583.7" cy="1026.8" r="3.2" fill="#b8b8ff"/><ellipse cx="1615.4" cy="1031.0" rx="13.6" ry="12.85" fill="#0000ff"/><circle cx="1610.6" cy="1027.1" r="5.8" fill="#7070ff"/><circle cx="1610.6" cy="1027.1" r="3.2" fill="#b8b8ff"/><ellipse cx="1642.2" cy="1031.4" rx="13.6" ry="12.85" fill="#0000ff"/><circle cx="1637.4" cy="1027.5" r="5.8" fill="#7070ff"/><circle cx="1637.4" cy="1027.5" r="3.2" fill="#b8b8ff"/><ellipse cx="1669.1" cy="1031.7" rx="13.6" ry="12.85" fill="#0000ff"/><circle cx="1664.3" cy="1027.8" r="5.8" fill="#7070ff"/><circle cx="1664.3" cy="1027.8" r="3.2" fill="#b8b8ff"/><ellipse cx="1695.9" cy="1032.1" rx="13.6" ry="12.85" fill="#0000ff"/><circle cx="1691.1" cy="1028.2" r="5.8" fill="#7070ff"/><circle cx="1691.1" cy="1028.2" r="3.2" fill="#b8b8ff"/><ellipse cx="1722.8" cy="1032.4" rx="13.6" ry="12.85" fill="#0000ff"/><circle cx="1718.0" cy="1028.5" r="5.8" fill="#7070ff"/><circle cx="1718.0" cy="1028.5" r="3.2" fill="#b8b8ff"/><ellipse cx="1749.6" cy="1032.8" rx="13.6" ry="12.85" fill="#0000ff"/><circle cx="1744.8" cy="1028.9" r="5.8" fill="#7070ff"/><circle cx="1744.8" cy="1028.9" r="3.2" fill="#b8b8ff"/><ellipse cx="1776.5" cy="1033.1" rx="13.6" ry="12.85" fill="#0000ff"/><circle cx="1771.7" cy="1029.2" r="5.8" fill="#7070ff"/><circle cx="1771.7" cy="1029.2" r="3.2" fill="#b8b8ff"/><ellipse cx="1803.3" cy="1033.5" rx="13.6" ry="12.85" fill="#0000ff"/><circle cx="1798.5" cy="1029.6" r="5.8" fill="#7070ff"/><circle cx="1798.5" cy="1029.6" r="3.2" fill="#b8b8ff"/><ellipse cx="1830.2" cy="1033.8" rx="13.6" ry="12.85" fill="#0000ff"/><circle cx="1825.4" cy="1029.9" r="5.8" fill="#7070ff"/><circle cx="1825.4" cy="1029.9" r="3.2" fill="#b8b8ff"/><ellipse cx="1857.0" cy="1034.2" rx="13.6" ry="12.85" fill="#0000ff"/><circle cx="1852.2" cy="1030.3" r="5.8" fill="#7070ff"/><circle cx="1852.2" cy="1030.3" r="3.2" fill="#b8b8ff"/><ellipse cx="1883.9" cy="1034.5" rx="13.6" ry="12.85" fill="#0000ff"/><circle cx="1879.1" cy="1030.6" r="5.8" fill="#7070ff"/><circle cx="1879.1" cy="1030.6" r="3.2" fill="#b8b8ff"/><ellipse cx="1910.7" cy="1034.9" rx="13.6" ry="12.85" fill="#0000ff"/><circle cx="1905.9" cy="1031.0" r="5.8" fill="#7070ff"/><circle cx="1905.9" cy="1031.0" r="3.2" fill="#b8b8ff"/><ellipse cx="1937.6" cy="1035.2" rx="13.6" ry="12.85" fill="#0000ff"/><circle cx="1932.8" cy="1031.3" r="5.8" fill="#7070ff"/><circle cx="1932.8" cy="1031.3" r="3.2" fill="#b8b8ff"/><ellipse cx="1964.4" cy="1035.6" rx="13.6" ry="12.85" fill="#0000ff"/><circle cx="1959.6" cy="1031.7" r="5.8" fill="#7070ff"/><circle cx="1959.6" cy="1031.7" r="3.2" fill="#b8b8ff"/><ellipse cx="1991.3" cy="1035.9" rx="13.6" ry="12.85" fill="#0000ff"/><circle cx="1986.5" cy="1032.0" r="5.8" fill="#7070ff"/><circle cx="1986.5" cy="1032.0" r="3.2" fill="#b8b8ff"/><ellipse cx="2018.1" cy="1036.3" rx="13.6" ry="12.85" fill="#0000ff"/><circle cx="2013.3" cy="1032.4" r="5.8" fill="#7070ff"/><circle cx="2013.3" cy="1032.4" r="3.2" fill="#b8b8ff"/><ellipse cx="2045.0" cy="1036.6" rx="13.6" ry="12.85" fill="#0000ff"/><circle cx="2040.2" cy="1032.7" r="5.8" fill="#7070ff"/><circle cx="2040.2" cy="1032.7" r="3.2" fill="#b8b8ff"/><ellipse cx="2071.8" cy="1037.0" rx="13.6" ry="12.85" fill="#0000ff"/><circle cx="2067.0" cy="1033.1" r="5.8" fill="#7070ff"/><circle cx="2067.0" cy="1033.1" r="3.2" fill="#b8b8ff"/></g>
<g stroke="#008000" stroke-width="5.8" stroke-linecap="round" fill="none"><path d="M466.7 572.9L493.6 566.4M534.4 557.6L560.7 552.6M602.1 548.2L625.3 547.8M666.1 553.8L689.1 561.2M726.5 579.1L752.1 595.8M783.2 623.2L814.1 659.5M839.8 692.4L870.5 735.3M894.7 769.3L922.4 808.4M947.9 841.4L970.4 868.5M999.1 898.8L1015.4 914.1M1048.0 940.1L1058.6 947.3M1094.7 968.0L1099.4 970.3M1138.1 985.8L1138.8 986.0"/></g><g><ellipse cx="444.0" cy="575.6" rx="13.6" ry="12.85" fill="#008000"/><circle cx="439.2" cy="571.7" r="5.8" fill="#2db870"/><circle cx="439.2" cy="571.7" r="3.2" fill="#a3dbb8"/><ellipse cx="511.5" cy="559.5" rx="13.6" ry="12.85" fill="#008000"/><circle cx="506.7" cy="555.6" r="5.8" fill="#2db870"/><circle cx="506.7" cy="555.6" r="3.2" fill="#a3dbb8"/><ellipse cx="578.8" cy="546.5" rx="13.6" ry="12.85" fill="#008000"/><circle cx="574.0" cy="542.6" r="5.8" fill="#2db870"/><circle cx="574.0" cy="542.6" r="3.2" fill="#a3dbb8"/><ellipse cx="643.8" cy="545.3" rx="13.6" ry="12.85" fill="#008000"/><circle cx="639.0" cy="541.4" r="5.8" fill="#2db870"/><circle cx="639.0" cy="541.4" r="3.2" fill="#a3dbb8"/><ellipse cx="706.6" cy="565.5" rx="13.6" ry="12.85" fill="#008000"/><circle cx="701.8" cy="561.6" r="5.8" fill="#2db870"/><circle cx="701.8" cy="561.6" r="3.2" fill="#a3dbb8"/><ellipse cx="767.2" cy="605.2" rx="13.6" ry="12.85" fill="#008000"/><circle cx="762.4" cy="601.3" r="5.8" fill="#2db870"/><circle cx="762.4" cy="601.3" r="3.2" fill="#a3dbb8"/><ellipse cx="825.3" cy="673.3" rx="13.6" ry="12.85" fill="#008000"/><circle cx="820.5" cy="669.4" r="5.8" fill="#2db870"/><circle cx="820.5" cy="669.4" r="3.2" fill="#a3dbb8"/><ellipse cx="880.2" cy="750.2" rx="13.6" ry="12.85" fill="#008000"/><circle cx="875.4" cy="746.3" r="5.8" fill="#2db870"/><circle cx="875.4" cy="746.3" r="3.2" fill="#a3dbb8"/><ellipse cx="932.1" cy="823.3" rx="13.6" ry="12.85" fill="#008000"/><circle cx="927.3" cy="819.4" r="5.8" fill="#2db870"/><circle cx="927.3" cy="819.4" r="3.2" fill="#a3dbb8"/><ellipse cx="981.4" cy="882.4" rx="13.6" ry="12.85" fill="#008000"/><circle cx="976.6" cy="878.5" r="5.8" fill="#2db870"/><circle cx="976.6" cy="878.5" r="3.2" fill="#a3dbb8"/><ellipse cx="1028.3" cy="926.3" rx="13.6" ry="12.85" fill="#008000"/><circle cx="1023.5" cy="922.4" r="5.8" fill="#2db870"/><circle cx="1023.5" cy="922.4" r="3.2" fill="#a3dbb8"/><ellipse cx="1073.5" cy="956.9" rx="13.6" ry="12.85" fill="#008000"/><circle cx="1068.7" cy="953.0" r="5.8" fill="#2db870"/><circle cx="1068.7" cy="953.0" r="3.2" fill="#a3dbb8"/><ellipse cx="1115.8" cy="977.2" rx="13.6" ry="12.85" fill="#008000"/><circle cx="1111.0" cy="973.3" r="5.8" fill="#2db870"/><circle cx="1111.0" cy="973.3" r="3.2" fill="#a3dbb8"/><ellipse cx="1156.3" cy="990.4" rx="13.6" ry="12.85" fill="#008000"/><circle cx="1151.5" cy="986.5" r="5.8" fill="#2db870"/><circle cx="1151.5" cy="986.5" r="3.2" fill="#a3dbb8"/><ellipse cx="1195.0" cy="999.8" rx="13.6" ry="12.85" fill="#008000"/><circle cx="1190.2" cy="995.9" r="5.8" fill="#2db870"/><circle cx="1190.2" cy="995.9" r="3.2" fill="#a3dbb8"/><ellipse cx="1231.9" cy="1006.8" rx="13.6" ry="12.85" fill="#008000"/><circle cx="1227.1" cy="1002.9" r="5.8" fill="#2db870"/><circle cx="1227.1" cy="1002.9" r="3.2" fill="#a3dbb8"/><ellipse cx="1266.9" cy="1012.6" rx="13.6" ry="12.85" fill="#008000"/><circle cx="1262.1" cy="1008.7" r="5.8" fill="#2db870"/><circle cx="1262.1" cy="1008.7" r="3.2" fill="#a3dbb8"/><ellipse cx="1301.4" cy="1016.9" rx="13.6" ry="12.85" fill="#008000"/><circle cx="1296.6" cy="1013.0" r="5.8" fill="#2db870"/><circle cx="1296.6" cy="1013.0" r="3.2" fill="#a3dbb8"/><ellipse cx="1333.9" cy="1018.7" rx="13.6" ry="12.85" fill="#008000"/><circle cx="1329.1" cy="1014.8" r="5.8" fill="#2db870"/><circle cx="1329.1" cy="1014.8" r="3.2" fill="#a3dbb8"/><ellipse cx="1365.7" cy="1020.3" rx="13.6" ry="12.85" fill="#008000"/><circle cx="1360.9" cy="1016.4" r="5.8" fill="#2db870"/><circle cx="1360.9" cy="1016.4" r="3.2" fill="#a3dbb8"/><ellipse cx="1395.7" cy="1021.7" rx="13.6" ry="12.85" fill="#008000"/><circle cx="1390.9" cy="1017.8" r="5.8" fill="#2db870"/><circle cx="1390.9" cy="1017.8" r="3.2" fill="#a3dbb8"/><ellipse cx="1425.0" cy="1022.8" rx="13.6" ry="12.85" fill="#008000"/><circle cx="1420.2" cy="1018.9" r="5.8" fill="#2db870"/><circle cx="1420.2" cy="1018.9" r="3.2" fill="#a3dbb8"/><ellipse cx="1453.7" cy="1023.7" rx="13.6" ry="12.85" fill="#008000"/><circle cx="1448.9" cy="1019.8" r="5.8" fill="#2db870"/><circle cx="1448.9" cy="1019.8" r="3.2" fill="#a3dbb8"/><ellipse cx="1481.6" cy="1024.4" rx="13.6" ry="12.85" fill="#008000"/><circle cx="1476.8" cy="1020.5" r="5.8" fill="#2db870"/><circle cx="1476.8" cy="1020.5" r="3.2" fill="#a3dbb8"/><ellipse cx="1508.2" cy="1025.0" rx="13.6" ry="12.85" fill="#008000"/><circle cx="1503.4" cy="1021.1" r="5.8" fill="#2db870"/><circle cx="1503.4" cy="1021.1" r="3.2" fill="#a3dbb8"/><ellipse cx="1534.8" cy="1025.2" rx="13.6" ry="12.85" fill="#008000"/><circle cx="1530.0" cy="1021.3" r="5.8" fill="#2db870"/><circle cx="1530.0" cy="1021.3" r="3.2" fill="#a3dbb8"/><ellipse cx="1561.7" cy="1025.4" rx="13.6" ry="12.85" fill="#008000"/><circle cx="1556.9" cy="1021.5" r="5.8" fill="#2db870"/><circle cx="1556.9" cy="1021.5" r="3.2" fill="#a3dbb8"/><ellipse cx="1588.5" cy="1025.6" rx="13.6" ry="12.85" fill="#008000"/><circle cx="1583.7" cy="1021.7" r="5.8" fill="#2db870"/><circle cx="1583.7" cy="1021.7" r="3.2" fill="#a3dbb8"/><ellipse cx="1615.4" cy="1025.8" rx="13.6" ry="12.85" fill="#008000"/><circle cx="1610.6" cy="1021.9" r="5.8" fill="#2db870"/><circle cx="1610.6" cy="1021.9" r="3.2" fill="#a3dbb8"/><ellipse cx="1642.2" cy="1026.0" rx="13.6" ry="12.85" fill="#008000"/><circle cx="1637.4" cy="1022.1" r="5.8" fill="#2db870"/><circle cx="1637.4" cy="1022.1" r="3.2" fill="#a3dbb8"/><ellipse cx="1669.1" cy="1026.3" rx="13.6" ry="12.85" fill="#008000"/><circle cx="1664.3" cy="1022.4" r="5.8" fill="#2db870"/><circle cx="1664.3" cy="1022.4" r="3.2" fill="#a3dbb8"/><ellipse cx="1695.9" cy="1026.5" rx="13.6" ry="12.85" fill="#008000"/><circle cx="1691.1" cy="1022.6" r="5.8" fill="#2db870"/><circle cx="1691.1" cy="1022.6" r="3.2" fill="#a3dbb8"/><ellipse cx="1722.8" cy="1026.7" rx="13.6" ry="12.85" fill="#008000"/><circle cx="1718.0" cy="1022.8" r="5.8" fill="#2db870"/><circle cx="1718.0" cy="1022.8" r="3.2" fill="#a3dbb8"/><ellipse cx="1749.6" cy="1026.9" rx="13.6" ry="12.85" fill="#008000"/><circle cx="1744.8" cy="1023.0" r="5.8" fill="#2db870"/><circle cx="1744.8" cy="1023.0" r="3.2" fill="#a3dbb8"/><ellipse cx="1776.5" cy="1027.1" rx="13.6" ry="12.85" fill="#008000"/><circle cx="1771.7" cy="1023.2" r="5.8" fill="#2db870"/><circle cx="1771.7" cy="1023.2" r="3.2" fill="#a3dbb8"/><ellipse cx="1803.3" cy="1027.3" rx="13.6" ry="12.85" fill="#008000"/><circle cx="1798.5" cy="1023.4" r="5.8" fill="#2db870"/><circle cx="1798.5" cy="1023.4" r="3.2" fill="#a3dbb8"/><ellipse cx="1830.2" cy="1027.5" rx="13.6" ry="12.85" fill="#008000"/><circle cx="1825.4" cy="1023.6" r="5.8" fill="#2db870"/><circle cx="1825.4" cy="1023.6" r="3.2" fill="#a3dbb8"/><ellipse cx="1857.0" cy="1027.7" rx="13.6" ry="12.85" fill="#008000"/><circle cx="1852.2" cy="1023.8" r="5.8" fill="#2db870"/><circle cx="1852.2" cy="1023.8" r="3.2" fill="#a3dbb8"/><ellipse cx="1883.9" cy="1027.9" rx="13.6" ry="12.85" fill="#008000"/><circle cx="1879.1" cy="1024.0" r="5.8" fill="#2db870"/><circle cx="1879.1" cy="1024.0" r="3.2" fill="#a3dbb8"/><ellipse cx="1910.7" cy="1028.1" rx="13.6" ry="12.85" fill="#008000"/><circle cx="1905.9" cy="1024.2" r="5.8" fill="#2db870"/><circle cx="1905.9" cy="1024.2" r="3.2" fill="#a3dbb8"/><ellipse cx="1937.6" cy="1028.4" rx="13.6" ry="12.85" fill="#008000"/><circle cx="1932.8" cy="1024.5" r="5.8" fill="#2db870"/><circle cx="1932.8" cy="1024.5" r="3.2" fill="#a3dbb8"/><ellipse cx="1964.4" cy="1028.6" rx="13.6" ry="12.85" fill="#008000"/><circle cx="1959.6" cy="1024.7" r="5.8" fill="#2db870"/><circle cx="1959.6" cy="1024.7" r="3.2" fill="#a3dbb8"/><ellipse cx="1991.3" cy="1028.8" rx="13.6" ry="12.85" fill="#008000"/><circle cx="1986.5" cy="1024.9" r="5.8" fill="#2db870"/><circle cx="1986.5" cy="1024.9" r="3.2" fill="#a3dbb8"/><ellipse cx="2018.1" cy="1029.0" rx="13.6" ry="12.85" fill="#008000"/><circle cx="2013.3" cy="1025.1" r="5.8" fill="#2db870"/><circle cx="2013.3" cy="1025.1" r="3.2" fill="#a3dbb8"/><ellipse cx="2045.0" cy="1029.2" rx="13.6" ry="12.85" fill="#008000"/><circle cx="2040.2" cy="1025.3" r="5.8" fill="#2db870"/><circle cx="2040.2" cy="1025.3" r="3.2" fill="#a3dbb8"/><ellipse cx="2071.8" cy="1029.4" rx="13.6" ry="12.85" fill="#008000"/><circle cx="2067.0" cy="1025.5" r="5.8" fill="#2db870"/><circle cx="2067.0" cy="1025.5" r="3.2" fill="#a3dbb8"/></g>
</g>
<text transform="translate(0.00 77.40) scale(1 1.04)"><tspan x="399.60" y="0.00" font-size="66" text-anchor="end">8x10</tspan><tspan x="399.60" y="-33.85" font-size="38.5" text-anchor="start">3</tspan></text>
<text transform="translate(0.00 264.07) scale(1 1.04)"><tspan x="399.60" y="0.00" font-size="66" text-anchor="end">7x10</tspan><tspan x="399.60" y="-33.85" font-size="38.5" text-anchor="start">3</tspan></text>
<text transform="translate(0.00 450.73) scale(1 1.04)"><tspan x="399.60" y="0.00" font-size="66" text-anchor="end">6x10</tspan><tspan x="399.60" y="-33.85" font-size="38.5" text-anchor="start">3</tspan></text>
<text transform="translate(0.00 637.40) scale(1 1.04)"><tspan x="399.60" y="0.00" font-size="66" text-anchor="end">5x10</tspan><tspan x="399.60" y="-33.85" font-size="38.5" text-anchor="start">3</tspan></text>
<text transform="translate(0.00 824.07) scale(1 1.04)"><tspan x="399.60" y="0.00" font-size="66" text-anchor="end">4x10</tspan><tspan x="399.60" y="-33.85" font-size="38.5" text-anchor="start">3</tspan></text>
<text transform="translate(0.00 1010.74) scale(1 1.04)"><tspan x="399.60" y="0.00" font-size="66" text-anchor="end">3x10</tspan><tspan x="399.60" y="-33.85" font-size="38.5" text-anchor="start">3</tspan></text>
<text transform="translate(0.00 1197.40) scale(1 1.04)"><tspan x="399.60" y="0.00" font-size="66" text-anchor="end">2x10</tspan><tspan x="399.60" y="-33.85" font-size="38.5" text-anchor="start">3</tspan></text>
<text transform="translate(0.00 1260.20) scale(1 1.04)"><tspan x="392.81" y="0.00" font-size="66">10</tspan><tspan x="466.70" y="-32.40" font-size="38.5">-2</tspan></text>
<text transform="translate(0.00 1260.20) scale(1 1.04)"><tspan x="663.48" y="0.00" font-size="66">10</tspan><tspan x="737.37" y="-32.40" font-size="38.5">-1</tspan></text>
<text transform="translate(0.00 1260.20) scale(1 1.04)"><tspan x="940.54" y="0.00" font-size="66">10</tspan><tspan x="1014.44" y="-32.40" font-size="38.5">0</tspan></text>
<text transform="translate(0.00 1260.20) scale(1 1.04)"><tspan x="1211.21" y="0.00" font-size="66">10</tspan><tspan x="1285.10" y="-32.40" font-size="38.5">1</tspan></text>
<text transform="translate(0.00 1260.20) scale(1 1.04)"><tspan x="1481.88" y="0.00" font-size="66">10</tspan><tspan x="1555.77" y="-32.40" font-size="38.5">2</tspan></text>
<text transform="translate(0.00 1260.20) scale(1 1.04)"><tspan x="1752.54" y="0.00" font-size="66">10</tspan><tspan x="1826.44" y="-32.40" font-size="38.5">3</tspan></text>
<text transform="translate(0.00 1260.20) scale(1 1.04)"><tspan x="2023.21" y="0.00" font-size="66">10</tspan><tspan x="2097.10" y="-32.40" font-size="38.5">4</tspan></text>
<g stroke="#000000" stroke-width="6" stroke-linecap="round"><line x1="1264.7" y1="129.6" x2="1304.6" y2="129.6"/><line x1="1352.4" y1="129.6" x2="1392.7" y2="129.6"/></g>
<ellipse cx="1326.0" cy="128.4" rx="13.6" ry="12.85" fill="#000000"/><circle cx="1321.2" cy="124.5" r="5.8" fill="#808080"/><circle cx="1321.2" cy="124.5" r="3.2" fill="#c8c8c8"/>
<g stroke="#ff0000" stroke-width="6" stroke-linecap="round"><line x1="1264.7" y1="197.6" x2="1304.6" y2="197.6"/><line x1="1352.4" y1="197.6" x2="1392.7" y2="197.6"/></g>
<ellipse cx="1326.0" cy="196.4" rx="13.6" ry="12.85" fill="#ff0000"/><circle cx="1321.2" cy="192.5" r="5.8" fill="#ff7070"/><circle cx="1321.2" cy="192.5" r="3.2" fill="#ffb8b8"/>
<g stroke="#0000ff" stroke-width="6" stroke-linecap="round"><line x1="1264.7" y1="264.4" x2="1304.6" y2="264.4"/><line x1="1352.4" y1="264.4" x2="1392.7" y2="264.4"/></g>
<ellipse cx="1326.0" cy="263.2" rx="13.6" ry="12.85" fill="#0000ff"/><circle cx="1321.2" cy="259.3" r="5.8" fill="#7070ff"/><circle cx="1321.2" cy="259.3" r="3.2" fill="#b8b8ff"/>
<g stroke="#008000" stroke-width="6" stroke-linecap="round"><line x1="1264.7" y1="350.6" x2="1304.6" y2="350.6"/><line x1="1352.4" y1="350.6" x2="1392.7" y2="350.6"/></g>
<ellipse cx="1326.0" cy="349.4" rx="13.6" ry="12.85" fill="#008000"/><circle cx="1321.2" cy="345.5" r="5.8" fill="#2db870"/><circle cx="1321.2" cy="345.5" r="3.2" fill="#a3dbb8"/>
<text transform="translate(0.00 148.90) scale(1 1.04)"><tspan x="1409.30" y="0.00" font-size="55.3">Bare steel</tspan></text>
<text transform="translate(0.00 216.90) scale(1 1.04)"><tspan x="1408.05" y="0.96" font-size="48.56" textLength="35.05" lengthAdjust="spacingAndGlyphs" class="sym" stroke="#000" stroke-width="1.6">α</tspan><tspan x="1440.35" y="3.85" font-size="55.3" textLength="30.33" lengthAdjust="spacingAndGlyphs">–</tspan><tspan x="1471.00" y="0.00" font-size="55.3">FeOOH coated steel</tspan></text>
<text transform="translate(0.00 283.70) scale(1 1.04)"><tspan x="1409.00" y="0.00" font-size="55.3">Fe</tspan><tspan x="1473.20" y="20.58" font-size="33">3</tspan><tspan x="1492.60" y="0.00" font-size="55.3">O</tspan><tspan x="1534.10" y="20.58" font-size="33">4</tspan> <tspan x="1562.80" y="0.00" font-size="55.3">coated steel</tspan></text>
<text transform="translate(0.00 369.90) scale(1 1.04)"><tspan x="1409.00" y="0.00" font-size="55.3">Fe</tspan><tspan x="1473.20" y="20.58" font-size="33">2</tspan><tspan x="1492.60" y="0.00" font-size="55.3">O</tspan><tspan x="1534.10" y="20.58" font-size="33">3</tspan> <tspan x="1562.80" y="0.00" font-size="55.3">coated steel</tspan></text>
</g>
<g id="plot-b">
<g stroke="#000" stroke-width="5.6" stroke-linecap="butt"><line x1="528.5" y1="2852" x2="528.5" y2="2838.5"/><line x1="576.1" y1="2852" x2="576.1" y2="2838.5"/><line x1="610.0" y1="2852" x2="610.0" y2="2838.5"/><line x1="636.2" y1="2852" x2="636.2" y2="2838.5"/><line x1="657.6" y1="2852" x2="657.6" y2="2838.5"/><line x1="675.7" y1="2852" x2="675.7" y2="2838.5"/><line x1="691.4" y1="2852" x2="691.4" y2="2838.5"/><line x1="705.3" y1="2852" x2="705.3" y2="2838.5"/><line x1="717.7" y1="2852" x2="717.7" y2="2827.0"/><line x1="799.1" y1="2852" x2="799.1" y2="2838.5"/><line x1="846.8" y1="2852" x2="846.8" y2="2838.5"/><line x1="880.6" y1="2852" x2="880.6" y2="2838.5"/><line x1="906.9" y1="2852" x2="906.9" y2="2838.5"/><line x1="928.3" y1="2852" x2="928.3" y2="2838.5"/><line x1="946.4" y1="2852" x2="946.4" y2="2838.5"/><line x1="962.1" y1="2852" x2="962.1" y2="2838.5"/><line x1="975.9" y1="2852" x2="975.9" y2="2838.5"/><line x1="988.3" y1="2852" x2="988.3" y2="2827.0"/><line x1="1069.8" y1="2852" x2="1069.8" y2="2838.5"/><line x1="1117.5" y1="2852" x2="1117.5" y2="2838.5"/><line x1="1151.3" y1="2852" x2="1151.3" y2="2838.5"/><line x1="1177.5" y1="2852" x2="1177.5" y2="2838.5"/><line x1="1199.0" y1="2852" x2="1199.0" y2="2838.5"/><line x1="1217.1" y1="2852" x2="1217.1" y2="2838.5"/><line x1="1232.8" y1="2852" x2="1232.8" y2="2838.5"/><line x1="1246.6" y1="2852" x2="1246.6" y2="2838.5"/><line x1="1259.0" y1="2852" x2="1259.0" y2="2827.0"/><line x1="1340.5" y1="2852" x2="1340.5" y2="2838.5"/><line x1="1388.1" y1="2852" x2="1388.1" y2="2838.5"/><line x1="1422.0" y1="2852" x2="1422.0" y2="2838.5"/><line x1="1448.2" y1="2852" x2="1448.2" y2="2838.5"/><line x1="1469.6" y1="2852" x2="1469.6" y2="2838.5"/><line x1="1487.7" y1="2852" x2="1487.7" y2="2838.5"/><line x1="1503.4" y1="2852" x2="1503.4" y2="2838.5"/><line x1="1517.3" y1="2852" x2="1517.3" y2="2838.5"/><line x1="1529.7" y1="2852" x2="1529.7" y2="2827.0"/><line x1="1611.1" y1="2852" x2="1611.1" y2="2838.5"/><line x1="1658.8" y1="2852" x2="1658.8" y2="2838.5"/><line x1="1692.6" y1="2852" x2="1692.6" y2="2838.5"/><line x1="1718.9" y1="2852" x2="1718.9" y2="2838.5"/><line x1="1740.3" y1="2852" x2="1740.3" y2="2838.5"/><line x1="1758.4" y1="2852" x2="1758.4" y2="2838.5"/><line x1="1774.1" y1="2852" x2="1774.1" y2="2838.5"/><line x1="1787.9" y1="2852" x2="1787.9" y2="2838.5"/><line x1="1800.3" y1="2852" x2="1800.3" y2="2827.0"/><line x1="1881.8" y1="2852" x2="1881.8" y2="2838.5"/><line x1="1929.5" y1="2852" x2="1929.5" y2="2838.5"/><line x1="1963.3" y1="2852" x2="1963.3" y2="2838.5"/><line x1="1989.5" y1="2852" x2="1989.5" y2="2838.5"/><line x1="2011.0" y1="2852" x2="2011.0" y2="2838.5"/><line x1="2029.1" y1="2852" x2="2029.1" y2="2838.5"/><line x1="2044.8" y1="2852" x2="2044.8" y2="2838.5"/><line x1="2058.6" y1="2852" x2="2058.6" y2="2838.5"/><line x1="447" y1="2819.9" x2="461.0" y2="2819.9" stroke-width="5"/><line x1="447" y1="2787.7" x2="461.0" y2="2787.7" stroke-width="5"/><line x1="447" y1="2755.6" x2="461.0" y2="2755.6" stroke-width="5"/><line x1="447" y1="2723.5" x2="461.0" y2="2723.5" stroke-width="5"/><line x1="447" y1="2691.4" x2="472.5" y2="2691.4" stroke-width="5"/><line x1="447" y1="2659.2" x2="461.0" y2="2659.2" stroke-width="5"/><line x1="447" y1="2627.1" x2="461.0" y2="2627.1" stroke-width="5"/><line x1="447" y1="2595.0" x2="461.0" y2="2595.0" stroke-width="5"/><line x1="447" y1="2562.8" x2="461.0" y2="2562.8" stroke-width="5"/><line x1="447" y1="2530.7" x2="472.5" y2="2530.7" stroke-width="5"/><line x1="447" y1="2498.6" x2="461.0" y2="2498.6" stroke-width="5"/><line x1="447" y1="2466.5" x2="461.0" y2="2466.5" stroke-width="5"/><line x1="447" y1="2434.3" x2="461.0" y2="2434.3" stroke-width="5"/><line x1="447" y1="2402.2" x2="461.0" y2="2402.2" stroke-width="5"/><line x1="447" y1="2370.1" x2="472.5" y2="2370.1" stroke-width="5"/><line x1="447" y1="2337.9" x2="461.0" y2="2337.9" stroke-width="5"/><line x1="447" y1="2305.8" x2="461.0" y2="2305.8" stroke-width="5"/><line x1="447" y1="2273.7" x2="461.0" y2="2273.7" stroke-width="5"/><line x1="447" y1="2241.5" x2="461.0" y2="2241.5" stroke-width="5"/><line x1="447" y1="2209.4" x2="472.5" y2="2209.4" stroke-width="5"/><line x1="447" y1="2177.3" x2="461.0" y2="2177.3" stroke-width="5"/><line x1="447" y1="2145.2" x2="461.0" y2="2145.2" stroke-width="5"/><line x1="447" y1="2113.0" x2="461.0" y2="2113.0" stroke-width="5"/><line x1="447" y1="2080.9" x2="461.0" y2="2080.9" stroke-width="5"/><line x1="447" y1="2048.8" x2="472.5" y2="2048.8" stroke-width="5"/><line x1="447" y1="2016.6" x2="461.0" y2="2016.6" stroke-width="5"/><line x1="447" y1="1984.5" x2="461.0" y2="1984.5" stroke-width="5"/><line x1="447" y1="1952.4" x2="461.0" y2="1952.4" stroke-width="5"/><line x1="447" y1="1920.3" x2="461.0" y2="1920.3" stroke-width="5"/><line x1="447" y1="1888.1" x2="472.5" y2="1888.1" stroke-width="5"/><line x1="447" y1="1856.0" x2="461.0" y2="1856.0" stroke-width="5"/><line x1="447" y1="1823.9" x2="461.0" y2="1823.9" stroke-width="5"/><line x1="447" y1="1791.7" x2="461.0" y2="1791.7" stroke-width="5"/><line x1="447" y1="1759.6" x2="461.0" y2="1759.6" stroke-width="5"/></g>
<rect x="447" y="1727.5" width="1624" height="1124.5" fill="none" stroke="#000" stroke-width="5.6"/>
<clipPath id="cb"><rect x="446.9" y="1727.0" width="1626.1" height="1122.2"/></clipPath>
<g clip-path="url(#cb)">
<g stroke="#000000" stroke-width="4.3" stroke-linecap="round" fill="none"><path d="M456.5 2415.5L503.8 2329.8M519.0 2291.0L576.1 2062.7M591.7 2024.1L635.7 1947.2M667.1 1926.6L688.1 1924.2M719.5 1940.0L759.1 2008.8M776.2 2046.9L821.1 2181.5M840.4 2218.1L869.9 2257.2M890.5 2293.4L926.6 2381.9M947.3 2418.1L971.0 2449.2M995.4 2483.4L1019.1 2518.9M1043.3 2553.2L1063.3 2580.0M1089.6 2612.7L1104.5 2629.9M1133.8 2659.9L1143.1 2668.2M1175.7 2694.6L1180.4 2698.1M1215.4 2721.2L1216.3 2721.7M2033.7 2709.1L2034.2 2708.5M2058.4 2674.2L2063.2 2666.4"/></g><g><ellipse cx="444.0" cy="2431.8" rx="13.6" ry="12.85" fill="#000000"/><circle cx="439.2" cy="2427.9" r="5.8" fill="#808080"/><circle cx="439.2" cy="2427.9" r="3.2" fill="#c8c8c8"/><ellipse cx="511.5" cy="2309.3" rx="13.6" ry="12.85" fill="#000000"/><circle cx="506.7" cy="2305.4" r="5.8" fill="#808080"/><circle cx="506.7" cy="2305.4" r="3.2" fill="#c8c8c8"/><ellipse cx="578.8" cy="2040.2" rx="13.6" ry="12.85" fill="#000000"/><circle cx="574.0" cy="2036.3" r="5.8" fill="#808080"/><circle cx="574.0" cy="2036.3" r="3.2" fill="#c8c8c8"/><ellipse cx="643.8" cy="1926.9" rx="13.6" ry="12.85" fill="#000000"/><circle cx="639.0" cy="1923.0" r="5.8" fill="#808080"/><circle cx="639.0" cy="1923.0" r="3.2" fill="#c8c8c8"/><ellipse cx="706.6" cy="1919.7" rx="13.6" ry="12.85" fill="#000000"/><circle cx="701.8" cy="1915.8" r="5.8" fill="#808080"/><circle cx="701.8" cy="1915.8" r="3.2" fill="#c8c8c8"/><ellipse cx="767.2" cy="2024.9" rx="13.6" ry="12.85" fill="#000000"/><circle cx="762.4" cy="2021.0" r="5.8" fill="#808080"/><circle cx="762.4" cy="2021.0" r="3.2" fill="#c8c8c8"/><ellipse cx="825.3" cy="2199.3" rx="13.6" ry="12.85" fill="#000000"/><circle cx="820.5" cy="2195.4" r="5.8" fill="#808080"/><circle cx="820.5" cy="2195.4" r="3.2" fill="#c8c8c8"/><ellipse cx="880.2" cy="2271.8" rx="13.6" ry="12.85" fill="#000000"/><circle cx="875.4" cy="2267.9" r="5.8" fill="#808080"/><circle cx="875.4" cy="2267.9" r="3.2" fill="#c8c8c8"/><ellipse cx="932.1" cy="2399.3" rx="13.6" ry="12.85" fill="#000000"/><circle cx="927.3" cy="2395.4" r="5.8" fill="#808080"/><circle cx="927.3" cy="2395.4" r="3.2" fill="#c8c8c8"/><ellipse cx="981.4" cy="2463.8" rx="13.6" ry="12.85" fill="#000000"/><circle cx="976.6" cy="2459.9" r="5.8" fill="#808080"/><circle cx="976.6" cy="2459.9" r="3.2" fill="#c8c8c8"/><ellipse cx="1028.3" cy="2534.3" rx="13.6" ry="12.85" fill="#000000"/><circle cx="1023.5" cy="2530.4" r="5.8" fill="#808080"/><circle cx="1023.5" cy="2530.4" r="3.2" fill="#c8c8c8"/><ellipse cx="1073.5" cy="2594.7" rx="13.6" ry="12.85" fill="#000000"/><circle cx="1068.7" cy="2590.8" r="5.8" fill="#808080"/><circle cx="1068.7" cy="2590.8" r="3.2" fill="#c8c8c8"/><ellipse cx="1115.8" cy="2643.7" rx="13.6" ry="12.85" fill="#000000"/><circle cx="1111.0" cy="2639.8" r="5.8" fill="#808080"/><circle cx="1111.0" cy="2639.8" r="3.2" fill="#c8c8c8"/><ellipse cx="1156.3" cy="2680.2" rx="13.6" ry="12.85" fill="#000000"/><circle cx="1151.5" cy="2676.3" r="5.8" fill="#808080"/><circle cx="1151.5" cy="2676.3" r="3.2" fill="#c8c8c8"/><ellipse cx="1195.0" cy="2708.3" rx="13.6" ry="12.85" fill="#000000"/><circle cx="1190.2" cy="2704.4" r="5.8" fill="#808080"/><circle cx="1190.2" cy="2704.4" r="3.2" fill="#c8c8c8"/><ellipse cx="1231.9" cy="2730.4" rx="13.6" ry="12.85" fill="#000000"/><circle cx="1227.1" cy="2726.5" r="5.8" fill="#808080"/><circle cx="1227.1" cy="2726.5" r="3.2" fill="#c8c8c8"/><ellipse cx="1266.9" cy="2748.0" rx="13.6" ry="12.85" fill="#000000"/><circle cx="1262.1" cy="2744.1" r="5.8" fill="#808080"/><circle cx="1262.1" cy="2744.1" r="3.2" fill="#c8c8c8"/><ellipse cx="1301.4" cy="2764.1" rx="13.6" ry="12.85" fill="#000000"/><circle cx="1296.6" cy="2760.2" r="5.8" fill="#808080"/><circle cx="1296.6" cy="2760.2" r="3.2" fill="#c8c8c8"/><ellipse cx="1333.9" cy="2777.2" rx="13.6" ry="12.85" fill="#000000"/><circle cx="1329.1" cy="2773.2" r="5.8" fill="#808080"/><circle cx="1329.1" cy="2773.2" r="3.2" fill="#c8c8c8"/><ellipse cx="1365.7" cy="2787.0" rx="13.6" ry="12.85" fill="#000000"/><circle cx="1360.9" cy="2783.1" r="5.8" fill="#808080"/><circle cx="1360.9" cy="2783.1" r="3.2" fill="#c8c8c8"/><ellipse cx="1395.7" cy="2794.9" rx="13.6" ry="12.85" fill="#000000"/><circle cx="1390.9" cy="2791.0" r="5.8" fill="#808080"/><circle cx="1390.9" cy="2791.0" r="3.2" fill="#c8c8c8"/><ellipse cx="1425.0" cy="2803.2" rx="13.6" ry="12.85" fill="#000000"/><circle cx="1420.2" cy="2799.3" r="5.8" fill="#808080"/><circle cx="1420.2" cy="2799.3" r="3.2" fill="#c8c8c8"/><ellipse cx="1453.7" cy="2811.2" rx="13.6" ry="12.85" fill="#000000"/><circle cx="1448.9" cy="2807.3" r="5.8" fill="#808080"/><circle cx="1448.9" cy="2807.3" r="3.2" fill="#c8c8c8"/><ellipse cx="1481.6" cy="2815.4" rx="13.6" ry="12.85" fill="#000000"/><circle cx="1476.8" cy="2811.5" r="5.8" fill="#808080"/><circle cx="1476.8" cy="2811.5" r="3.2" fill="#c8c8c8"/><ellipse cx="1508.2" cy="2818.1" rx="13.6" ry="12.85" fill="#000000"/><circle cx="1503.4" cy="2814.2" r="5.8" fill="#808080"/><circle cx="1503.4" cy="2814.2" r="3.2" fill="#c8c8c8"/><ellipse cx="1534.8" cy="2822.4" rx="13.6" ry="12.85" fill="#000000"/><circle cx="1530.0" cy="2818.5" r="5.8" fill="#808080"/><circle cx="1530.0" cy="2818.5" r="3.2" fill="#c8c8c8"/><ellipse cx="1561.7" cy="2825.1" rx="13.6" ry="12.85" fill="#000000"/><circle cx="1556.9" cy="2821.2" r="5.8" fill="#808080"/><circle cx="1556.9" cy="2821.2" r="3.2" fill="#c8c8c8"/><ellipse cx="1588.5" cy="2827.5" rx="13.6" ry="12.85" fill="#000000"/><circle cx="1583.7" cy="2823.6" r="5.8" fill="#808080"/><circle cx="1583.7" cy="2823.6" r="3.2" fill="#c8c8c8"/><ellipse cx="1615.4" cy="2829.0" rx="13.6" ry="12.85" fill="#000000"/><circle cx="1610.6" cy="2825.1" r="5.8" fill="#808080"/><circle cx="1610.6" cy="2825.1" r="3.2" fill="#c8c8c8"/><ellipse cx="1642.2" cy="2830.9" rx="13.6" ry="12.85" fill="#000000"/><circle cx="1637.4" cy="2827.0" r="5.8" fill="#808080"/><circle cx="1637.4" cy="2827.0" r="3.2" fill="#c8c8c8"/><ellipse cx="1669.1" cy="2830.9" rx="13.6" ry="12.85" fill="#000000"/><circle cx="1664.3" cy="2827.0" r="5.8" fill="#808080"/><circle cx="1664.3" cy="2827.0" r="3.2" fill="#c8c8c8"/><ellipse cx="1695.9" cy="2829.8" rx="13.6" ry="12.85" fill="#000000"/><circle cx="1691.1" cy="2825.9" r="5.8" fill="#808080"/><circle cx="1691.1" cy="2825.9" r="3.2" fill="#c8c8c8"/><ellipse cx="1722.8" cy="2829.5" rx="13.6" ry="12.85" fill="#000000"/><circle cx="1718.0" cy="2825.6" r="5.8" fill="#808080"/><circle cx="1718.0" cy="2825.6" r="3.2" fill="#c8c8c8"/><ellipse cx="1749.6" cy="2829.4" rx="13.6" ry="12.85" fill="#000000"/><circle cx="1744.8" cy="2825.5" r="5.8" fill="#808080"/><circle cx="1744.8" cy="2825.5" r="3.2" fill="#c8c8c8"/><ellipse cx="1776.5" cy="2827.5" rx="13.6" ry="12.85" fill="#000000"/><circle cx="1771.7" cy="2823.6" r="5.8" fill="#808080"/><circle cx="1771.7" cy="2823.6" r="3.2" fill="#c8c8c8"/><ellipse cx="1803.3" cy="2821.0" rx="13.6" ry="12.85" fill="#000000"/><circle cx="1798.5" cy="2817.1" r="5.8" fill="#808080"/><circle cx="1798.5" cy="2817.1" r="3.2" fill="#c8c8c8"/><ellipse cx="1830.2" cy="2815.0" rx="13.6" ry="12.85" fill="#000000"/><circle cx="1825.4" cy="2811.1" r="5.8" fill="#808080"/><circle cx="1825.4" cy="2811.1" r="3.2" fill="#c8c8c8"/><ellipse cx="1857.0" cy="2808.8" rx="13.6" ry="12.85" fill="#000000"/><circle cx="1852.2" cy="2804.9" r="5.8" fill="#808080"/><circle cx="1852.2" cy="2804.9" r="3.2" fill="#c8c8c8"/><ellipse cx="1883.9" cy="2800.0" rx="13.6" ry="12.85" fill="#000000"/><circle cx="1879.1" cy="2796.1" r="5.8" fill="#808080"/><circle cx="1879.1" cy="2796.1" r="3.2" fill="#c8c8c8"/><ellipse cx="1910.7" cy="2790.8" rx="13.6" ry="12.85" fill="#000000"/><circle cx="1905.9" cy="2786.9" r="5.8" fill="#808080"/><circle cx="1905.9" cy="2786.9" r="3.2" fill="#c8c8c8"/><ellipse cx="1937.6" cy="2778.9" rx="13.6" ry="12.85" fill="#000000"/><circle cx="1932.8" cy="2775.0" r="5.8" fill="#808080"/><circle cx="1932.8" cy="2775.0" r="3.2" fill="#c8c8c8"/><ellipse cx="1964.4" cy="2764.0" rx="13.6" ry="12.85" fill="#000000"/><circle cx="1959.6" cy="2760.1" r="5.8" fill="#808080"/><circle cx="1959.6" cy="2760.1" r="3.2" fill="#c8c8c8"/><ellipse cx="1991.3" cy="2747.5" rx="13.6" ry="12.85" fill="#000000"/><circle cx="1986.5" cy="2743.6" r="5.8" fill="#808080"/><circle cx="1986.5" cy="2743.6" r="3.2" fill="#c8c8c8"/><ellipse cx="2018.1" cy="2723.4" rx="13.6" ry="12.85" fill="#000000"/><circle cx="2013.3" cy="2719.5" r="5.8" fill="#808080"/><circle cx="2013.3" cy="2719.5" r="3.2" fill="#c8c8c8"/><ellipse cx="2045.0" cy="2690.0" rx="13.6" ry="12.85" fill="#000000"/><circle cx="2040.2" cy="2686.1" r="5.8" fill="#808080"/><circle cx="2040.2" cy="2686.1" r="3.2" fill="#c8c8c8"/><ellipse cx="2071.8" cy="2646.4" rx="13.6" ry="12.85" fill="#000000"/><circle cx="2067.0" cy="2642.5" r="5.8" fill="#808080"/><circle cx="2067.0" cy="2642.5" r="3.2" fill="#c8c8c8"/></g>
<g stroke="#ff0000" stroke-width="4.3" stroke-linecap="round" fill="none"><path d="M465.2 2821.4L495.1 2836.0M530.0 2831.8L565.1 2802.1M593.3 2771.4L634.1 2713.3M656.2 2677.6L699.0 2598.8M717.1 2560.9L761.5 2454.0M777.9 2415.3L819.4 2318.2M837.9 2280.6L872.4 2218.7M898.6 2186.8L918.5 2169.9M955.0 2160.7L963.3 2162.5M997.9 2182.4L1016.6 2203.0M1041.5 2236.5L1065.1 2276.3M1086.1 2312.6L1108.0 2351.8M1128.6 2388.4L1148.3 2423.2M1169.8 2459.3L1186.3 2485.6M1209.8 2520.4L1221.9 2537.1M1247.6 2570.3L1256.0 2580.4M1284.0 2611.5L1289.1 2616.6M1319.3 2645.8L1320.8 2647.2"/></g><g><ellipse cx="444.0" cy="2810.0" rx="13.6" ry="12.85" fill="#ff0000"/><circle cx="439.2" cy="2806.1" r="5.8" fill="#ff7070"/><circle cx="439.2" cy="2806.1" r="3.2" fill="#ffb8b8"/><ellipse cx="511.5" cy="2843.2" rx="13.6" ry="12.85" fill="#ff0000"/><circle cx="506.7" cy="2839.3" r="5.8" fill="#ff7070"/><circle cx="506.7" cy="2839.3" r="3.2" fill="#ffb8b8"/><ellipse cx="578.8" cy="2786.5" rx="13.6" ry="12.85" fill="#ff0000"/><circle cx="574.0" cy="2782.6" r="5.8" fill="#ff7070"/><circle cx="574.0" cy="2782.6" r="3.2" fill="#ffb8b8"/><ellipse cx="643.8" cy="2694.0" rx="13.6" ry="12.85" fill="#ff0000"/><circle cx="639.0" cy="2690.1" r="5.8" fill="#ff7070"/><circle cx="639.0" cy="2690.1" r="3.2" fill="#ffb8b8"/><ellipse cx="706.6" cy="2578.2" rx="13.6" ry="12.85" fill="#ff0000"/><circle cx="701.8" cy="2574.3" r="5.8" fill="#ff7070"/><circle cx="701.8" cy="2574.3" r="3.2" fill="#ffb8b8"/><ellipse cx="767.2" cy="2432.5" rx="13.6" ry="12.85" fill="#ff0000"/><circle cx="762.4" cy="2428.6" r="5.8" fill="#ff7070"/><circle cx="762.4" cy="2428.6" r="3.2" fill="#ffb8b8"/><ellipse cx="825.3" cy="2296.8" rx="13.6" ry="12.85" fill="#ff0000"/><circle cx="820.5" cy="2292.9" r="5.8" fill="#ff7070"/><circle cx="820.5" cy="2292.9" r="3.2" fill="#ffb8b8"/><ellipse cx="880.2" cy="2198.3" rx="13.6" ry="12.85" fill="#ff0000"/><circle cx="875.4" cy="2194.4" r="5.8" fill="#ff7070"/><circle cx="875.4" cy="2194.4" r="3.2" fill="#ffb8b8"/><ellipse cx="932.1" cy="2154.2" rx="13.6" ry="12.85" fill="#ff0000"/><circle cx="927.3" cy="2150.3" r="5.8" fill="#ff7070"/><circle cx="927.3" cy="2150.3" r="3.2" fill="#ffb8b8"/><ellipse cx="981.4" cy="2164.8" rx="13.6" ry="12.85" fill="#ff0000"/><circle cx="976.6" cy="2160.9" r="5.8" fill="#ff7070"/><circle cx="976.6" cy="2160.9" r="3.2" fill="#ffb8b8"/><ellipse cx="1028.3" cy="2216.4" rx="13.6" ry="12.85" fill="#ff0000"/><circle cx="1023.5" cy="2212.5" r="5.8" fill="#ff7070"/><circle cx="1023.5" cy="2212.5" r="3.2" fill="#ffb8b8"/><ellipse cx="1073.5" cy="2292.2" rx="13.6" ry="12.85" fill="#ff0000"/><circle cx="1068.7" cy="2288.3" r="5.8" fill="#ff7070"/><circle cx="1068.7" cy="2288.3" r="3.2" fill="#ffb8b8"/><ellipse cx="1115.8" cy="2368.0" rx="13.6" ry="12.85" fill="#ff0000"/><circle cx="1111.0" cy="2364.1" r="5.8" fill="#ff7070"/><circle cx="1111.0" cy="2364.1" r="3.2" fill="#ffb8b8"/><ellipse cx="1156.3" cy="2439.3" rx="13.6" ry="12.85" fill="#ff0000"/><circle cx="1151.5" cy="2435.4" r="5.8" fill="#ff7070"/><circle cx="1151.5" cy="2435.4" r="3.2" fill="#ffb8b8"/><ellipse cx="1195.0" cy="2501.3" rx="13.6" ry="12.85" fill="#ff0000"/><circle cx="1190.2" cy="2497.4" r="5.8" fill="#ff7070"/><circle cx="1190.2" cy="2497.4" r="3.2" fill="#ffb8b8"/><ellipse cx="1231.9" cy="2551.9" rx="13.6" ry="12.85" fill="#ff0000"/><circle cx="1227.1" cy="2548.0" r="5.8" fill="#ff7070"/><circle cx="1227.1" cy="2548.0" r="3.2" fill="#ffb8b8"/><ellipse cx="1266.9" cy="2594.5" rx="13.6" ry="12.85" fill="#ff0000"/><circle cx="1262.1" cy="2590.6" r="5.8" fill="#ff7070"/><circle cx="1262.1" cy="2590.6" r="3.2" fill="#ffb8b8"/><ellipse cx="1301.4" cy="2629.5" rx="13.6" ry="12.85" fill="#ff0000"/><circle cx="1296.6" cy="2625.6" r="5.8" fill="#ff7070"/><circle cx="1296.6" cy="2625.6" r="3.2" fill="#ffb8b8"/><ellipse cx="1333.9" cy="2659.3" rx="13.6" ry="12.85" fill="#ff0000"/><circle cx="1329.1" cy="2655.4" r="5.8" fill="#ff7070"/><circle cx="1329.1" cy="2655.4" r="3.2" fill="#ffb8b8"/><ellipse cx="1365.7" cy="2683.9" rx="13.6" ry="12.85" fill="#ff0000"/><circle cx="1360.9" cy="2680.0" r="5.8" fill="#ff7070"/><circle cx="1360.9" cy="2680.0" r="3.2" fill="#ffb8b8"/><ellipse cx="1395.7" cy="2702.6" rx="13.6" ry="12.85" fill="#ff0000"/><circle cx="1390.9" cy="2698.7" r="5.8" fill="#ff7070"/><circle cx="1390.9" cy="2698.7" r="3.2" fill="#ffb8b8"/><ellipse cx="1425.0" cy="2721.5" rx="13.6" ry="12.85" fill="#ff0000"/><circle cx="1420.2" cy="2717.6" r="5.8" fill="#ff7070"/><circle cx="1420.2" cy="2717.6" r="3.2" fill="#ffb8b8"/><ellipse cx="1453.7" cy="2735.0" rx="13.6" ry="12.85" fill="#ff0000"/><circle cx="1448.9" cy="2731.1" r="5.8" fill="#ff7070"/><circle cx="1448.9" cy="2731.1" r="3.2" fill="#ffb8b8"/><ellipse cx="1481.6" cy="2749.4" rx="13.6" ry="12.85" fill="#ff0000"/><circle cx="1476.8" cy="2745.5" r="5.8" fill="#ff7070"/><circle cx="1476.8" cy="2745.5" r="3.2" fill="#ffb8b8"/><ellipse cx="1508.2" cy="2759.6" rx="13.6" ry="12.85" fill="#ff0000"/><circle cx="1503.4" cy="2755.7" r="5.8" fill="#ff7070"/><circle cx="1503.4" cy="2755.7" r="3.2" fill="#ffb8b8"/><ellipse cx="1534.8" cy="2770.1" rx="13.6" ry="12.85" fill="#ff0000"/><circle cx="1530.0" cy="2766.2" r="5.8" fill="#ff7070"/><circle cx="1530.0" cy="2766.2" r="3.2" fill="#ffb8b8"/><ellipse cx="1561.7" cy="2778.0" rx="13.6" ry="12.85" fill="#ff0000"/><circle cx="1556.9" cy="2774.1" r="5.8" fill="#ff7070"/><circle cx="1556.9" cy="2774.1" r="3.2" fill="#ffb8b8"/><ellipse cx="1588.5" cy="2786.0" rx="13.6" ry="12.85" fill="#ff0000"/><circle cx="1583.7" cy="2782.1" r="5.8" fill="#ff7070"/><circle cx="1583.7" cy="2782.1" r="3.2" fill="#ffb8b8"/><ellipse cx="1615.4" cy="2790.8" rx="13.6" ry="12.85" fill="#ff0000"/><circle cx="1610.6" cy="2786.9" r="5.8" fill="#ff7070"/><circle cx="1610.6" cy="2786.9" r="3.2" fill="#ffb8b8"/><ellipse cx="1642.2" cy="2795.9" rx="13.6" ry="12.85" fill="#ff0000"/><circle cx="1637.4" cy="2792.0" r="5.8" fill="#ff7070"/><circle cx="1637.4" cy="2792.0" r="3.2" fill="#ffb8b8"/><ellipse cx="1669.1" cy="2799.9" rx="13.6" ry="12.85" fill="#ff0000"/><circle cx="1664.3" cy="2796.0" r="5.8" fill="#ff7070"/><circle cx="1664.3" cy="2796.0" r="3.2" fill="#ffb8b8"/><ellipse cx="1695.9" cy="2803.7" rx="13.6" ry="12.85" fill="#ff0000"/><circle cx="1691.1" cy="2799.8" r="5.8" fill="#ff7070"/><circle cx="1691.1" cy="2799.8" r="3.2" fill="#ffb8b8"/><ellipse cx="1722.8" cy="2807.0" rx="13.6" ry="12.85" fill="#ff0000"/><circle cx="1718.0" cy="2803.1" r="5.8" fill="#ff7070"/><circle cx="1718.0" cy="2803.1" r="3.2" fill="#ffb8b8"/><ellipse cx="1749.6" cy="2808.8" rx="13.6" ry="12.85" fill="#ff0000"/><circle cx="1744.8" cy="2804.9" r="5.8" fill="#ff7070"/><circle cx="1744.8" cy="2804.9" r="3.2" fill="#ffb8b8"/><ellipse cx="1776.5" cy="2809.8" rx="13.6" ry="12.85" fill="#ff0000"/><circle cx="1771.7" cy="2805.9" r="5.8" fill="#ff7070"/><circle cx="1771.7" cy="2805.9" r="3.2" fill="#ffb8b8"/><ellipse cx="1803.3" cy="2810.0" rx="13.6" ry="12.85" fill="#ff0000"/><circle cx="1798.5" cy="2806.1" r="5.8" fill="#ff7070"/><circle cx="1798.5" cy="2806.1" r="3.2" fill="#ffb8b8"/><ellipse cx="1830.2" cy="2809.0" rx="13.6" ry="12.85" fill="#ff0000"/><circle cx="1825.4" cy="2805.1" r="5.8" fill="#ff7070"/><circle cx="1825.4" cy="2805.1" r="3.2" fill="#ffb8b8"/><ellipse cx="1857.0" cy="2807.0" rx="13.6" ry="12.85" fill="#ff0000"/><circle cx="1852.2" cy="2803.1" r="5.8" fill="#ff7070"/><circle cx="1852.2" cy="2803.1" r="3.2" fill="#ffb8b8"/><ellipse cx="1883.9" cy="2803.3" rx="13.6" ry="12.85" fill="#ff0000"/><circle cx="1879.1" cy="2799.4" r="5.8" fill="#ff7070"/><circle cx="1879.1" cy="2799.4" r="3.2" fill="#ffb8b8"/><ellipse cx="1910.7" cy="2796.5" rx="13.6" ry="12.85" fill="#ff0000"/><circle cx="1905.9" cy="2792.6" r="5.8" fill="#ff7070"/><circle cx="1905.9" cy="2792.6" r="3.2" fill="#ffb8b8"/><ellipse cx="1937.6" cy="2790.5" rx="13.6" ry="12.85" fill="#ff0000"/><circle cx="1932.8" cy="2786.6" r="5.8" fill="#ff7070"/><circle cx="1932.8" cy="2786.6" r="3.2" fill="#ffb8b8"/><ellipse cx="1964.4" cy="2782.5" rx="13.6" ry="12.85" fill="#ff0000"/><circle cx="1959.6" cy="2778.6" r="5.8" fill="#ff7070"/><circle cx="1959.6" cy="2778.6" r="3.2" fill="#ffb8b8"/><ellipse cx="1991.3" cy="2772.1" rx="13.6" ry="12.85" fill="#ff0000"/><circle cx="1986.5" cy="2768.2" r="5.8" fill="#ff7070"/><circle cx="1986.5" cy="2768.2" r="3.2" fill="#ffb8b8"/><ellipse cx="2018.1" cy="2757.2" rx="13.6" ry="12.85" fill="#ff0000"/><circle cx="2013.3" cy="2753.3" r="5.8" fill="#ff7070"/><circle cx="2013.3" cy="2753.3" r="3.2" fill="#ffb8b8"/><ellipse cx="2045.0" cy="2737.0" rx="13.6" ry="12.85" fill="#ff0000"/><circle cx="2040.2" cy="2733.1" r="5.8" fill="#ff7070"/><circle cx="2040.2" cy="2733.1" r="3.2" fill="#ffb8b8"/><ellipse cx="2071.8" cy="2711.9" rx="13.6" ry="12.85" fill="#ff0000"/><circle cx="2067.0" cy="2708.0" r="5.8" fill="#ff7070"/><circle cx="2067.0" cy="2708.0" r="3.2" fill="#ffb8b8"/></g>
<g stroke="#0000ff" stroke-width="4.3" stroke-linecap="round" fill="none"><path d="M461.3 2882.4L499.0 2845.2M527.7 2814.7L567.4 2769.2M591.3 2735.0L636.1 2653.2M654.3 2615.4L700.9 2503.0M716.5 2464.0L762.1 2343.7M779.0 2305.3L818.3 2226.9M840.9 2191.7L869.4 2156.3M903.6 2139.6L913.5 2139.4M948.4 2154.9L969.9 2179.4M994.1 2213.5L1020.4 2260.4M1039.6 2297.7L1067.0 2356.8M1085.4 2394.5L1108.7 2440.0M1128.0 2477.3L1148.9 2517.1M1169.7 2553.6L1186.4 2580.8M1210.1 2615.3L1221.6 2630.3M1248.5 2662.4L1255.1 2669.5M1285.2 2698.6L1287.9 2700.8M2060.7 2674.2L2060.8 2674.2"/></g><g><ellipse cx="444.0" cy="2895.0" rx="13.6" ry="12.85" fill="#0000ff"/><circle cx="439.2" cy="2891.1" r="5.8" fill="#7070ff"/><circle cx="439.2" cy="2891.1" r="3.2" fill="#b8b8ff"/><ellipse cx="511.5" cy="2828.4" rx="13.6" ry="12.85" fill="#0000ff"/><circle cx="506.7" cy="2824.5" r="5.8" fill="#7070ff"/><circle cx="506.7" cy="2824.5" r="3.2" fill="#b8b8ff"/><ellipse cx="578.8" cy="2751.3" rx="13.6" ry="12.85" fill="#0000ff"/><circle cx="574.0" cy="2747.4" r="5.8" fill="#7070ff"/><circle cx="574.0" cy="2747.4" r="3.2" fill="#b8b8ff"/><ellipse cx="643.8" cy="2632.7" rx="13.6" ry="12.85" fill="#0000ff"/><circle cx="639.0" cy="2628.8" r="5.8" fill="#7070ff"/><circle cx="639.0" cy="2628.8" r="3.2" fill="#b8b8ff"/><ellipse cx="706.6" cy="2481.5" rx="13.6" ry="12.85" fill="#0000ff"/><circle cx="701.8" cy="2477.6" r="5.8" fill="#7070ff"/><circle cx="701.8" cy="2477.6" r="3.2" fill="#b8b8ff"/><ellipse cx="767.2" cy="2322.0" rx="13.6" ry="12.85" fill="#0000ff"/><circle cx="762.4" cy="2318.1" r="5.8" fill="#7070ff"/><circle cx="762.4" cy="2318.1" r="3.2" fill="#b8b8ff"/><ellipse cx="825.3" cy="2206.0" rx="13.6" ry="12.85" fill="#0000ff"/><circle cx="820.5" cy="2202.1" r="5.8" fill="#7070ff"/><circle cx="820.5" cy="2202.1" r="3.2" fill="#b8b8ff"/><ellipse cx="880.2" cy="2137.8" rx="13.6" ry="12.85" fill="#0000ff"/><circle cx="875.4" cy="2133.9" r="5.8" fill="#7070ff"/><circle cx="875.4" cy="2133.9" r="3.2" fill="#b8b8ff"/><ellipse cx="932.1" cy="2137.0" rx="13.6" ry="12.85" fill="#0000ff"/><circle cx="927.3" cy="2133.1" r="5.8" fill="#7070ff"/><circle cx="927.3" cy="2133.1" r="3.2" fill="#b8b8ff"/><ellipse cx="981.4" cy="2193.1" rx="13.6" ry="12.85" fill="#0000ff"/><circle cx="976.6" cy="2189.2" r="5.8" fill="#7070ff"/><circle cx="976.6" cy="2189.2" r="3.2" fill="#b8b8ff"/><ellipse cx="1028.3" cy="2276.6" rx="13.6" ry="12.85" fill="#0000ff"/><circle cx="1023.5" cy="2272.7" r="5.8" fill="#7070ff"/><circle cx="1023.5" cy="2272.7" r="3.2" fill="#b8b8ff"/><ellipse cx="1073.5" cy="2373.7" rx="13.6" ry="12.85" fill="#0000ff"/><circle cx="1068.7" cy="2369.8" r="5.8" fill="#7070ff"/><circle cx="1068.7" cy="2369.8" r="3.2" fill="#b8b8ff"/><ellipse cx="1115.8" cy="2456.6" rx="13.6" ry="12.85" fill="#0000ff"/><circle cx="1111.0" cy="2452.7" r="5.8" fill="#7070ff"/><circle cx="1111.0" cy="2452.7" r="3.2" fill="#b8b8ff"/><ellipse cx="1156.3" cy="2533.6" rx="13.6" ry="12.85" fill="#0000ff"/><circle cx="1151.5" cy="2529.7" r="5.8" fill="#7070ff"/><circle cx="1151.5" cy="2529.7" r="3.2" fill="#b8b8ff"/><ellipse cx="1195.0" cy="2596.6" rx="13.6" ry="12.85" fill="#0000ff"/><circle cx="1190.2" cy="2592.7" r="5.8" fill="#7070ff"/><circle cx="1190.2" cy="2592.7" r="3.2" fill="#b8b8ff"/><ellipse cx="1231.9" cy="2644.9" rx="13.6" ry="12.85" fill="#0000ff"/><circle cx="1227.1" cy="2641.0" r="5.8" fill="#7070ff"/><circle cx="1227.1" cy="2641.0" r="3.2" fill="#b8b8ff"/><ellipse cx="1266.9" cy="2682.8" rx="13.6" ry="12.85" fill="#0000ff"/><circle cx="1262.1" cy="2678.9" r="5.8" fill="#7070ff"/><circle cx="1262.1" cy="2678.9" r="3.2" fill="#b8b8ff"/><ellipse cx="1301.4" cy="2712.4" rx="13.6" ry="12.85" fill="#0000ff"/><circle cx="1296.6" cy="2708.5" r="5.8" fill="#7070ff"/><circle cx="1296.6" cy="2708.5" r="3.2" fill="#b8b8ff"/><ellipse cx="1333.9" cy="2736.3" rx="13.6" ry="12.85" fill="#0000ff"/><circle cx="1329.1" cy="2732.4" r="5.8" fill="#7070ff"/><circle cx="1329.1" cy="2732.4" r="3.2" fill="#b8b8ff"/><ellipse cx="1365.7" cy="2756.1" rx="13.6" ry="12.85" fill="#0000ff"/><circle cx="1360.9" cy="2752.2" r="5.8" fill="#7070ff"/><circle cx="1360.9" cy="2752.2" r="3.2" fill="#b8b8ff"/><ellipse cx="1395.7" cy="2770.0" rx="13.6" ry="12.85" fill="#0000ff"/><circle cx="1390.9" cy="2766.1" r="5.8" fill="#7070ff"/><circle cx="1390.9" cy="2766.1" r="3.2" fill="#b8b8ff"/><ellipse cx="1425.0" cy="2784.9" rx="13.6" ry="12.85" fill="#0000ff"/><circle cx="1420.2" cy="2781.0" r="5.8" fill="#7070ff"/><circle cx="1420.2" cy="2781.0" r="3.2" fill="#b8b8ff"/><ellipse cx="1453.7" cy="2794.2" rx="13.6" ry="12.85" fill="#0000ff"/><circle cx="1448.9" cy="2790.3" r="5.8" fill="#7070ff"/><circle cx="1448.9" cy="2790.3" r="3.2" fill="#b8b8ff"/><ellipse cx="1481.6" cy="2801.4" rx="13.6" ry="12.85" fill="#0000ff"/><circle cx="1476.8" cy="2797.5" r="5.8" fill="#7070ff"/><circle cx="1476.8" cy="2797.5" r="3.2" fill="#b8b8ff"/><ellipse cx="1508.2" cy="2806.6" rx="13.6" ry="12.85" fill="#0000ff"/><circle cx="1503.4" cy="2802.7" r="5.8" fill="#7070ff"/><circle cx="1503.4" cy="2802.7" r="3.2" fill="#b8b8ff"/><ellipse cx="1534.8" cy="2812.0" rx="13.6" ry="12.85" fill="#0000ff"/><circle cx="1530.0" cy="2808.1" r="5.8" fill="#7070ff"/><circle cx="1530.0" cy="2808.1" r="3.2" fill="#b8b8ff"/><ellipse cx="1561.7" cy="2815.1" rx="13.6" ry="12.85" fill="#0000ff"/><circle cx="1556.9" cy="2811.2" r="5.8" fill="#7070ff"/><circle cx="1556.9" cy="2811.2" r="3.2" fill="#b8b8ff"/><ellipse cx="1588.5" cy="2817.8" rx="13.6" ry="12.85" fill="#0000ff"/><circle cx="1583.7" cy="2813.9" r="5.8" fill="#7070ff"/><circle cx="1583.7" cy="2813.9" r="3.2" fill="#b8b8ff"/><ellipse cx="1615.4" cy="2819.6" rx="13.6" ry="12.85" fill="#0000ff"/><circle cx="1610.6" cy="2815.7" r="5.8" fill="#7070ff"/><circle cx="1610.6" cy="2815.7" r="3.2" fill="#b8b8ff"/><ellipse cx="1642.2" cy="2820.9" rx="13.6" ry="12.85" fill="#0000ff"/><circle cx="1637.4" cy="2817.0" r="5.8" fill="#7070ff"/><circle cx="1637.4" cy="2817.0" r="3.2" fill="#b8b8ff"/><ellipse cx="1669.1" cy="2820.9" rx="13.6" ry="12.85" fill="#0000ff"/><circle cx="1664.3" cy="2817.0" r="5.8" fill="#7070ff"/><circle cx="1664.3" cy="2817.0" r="3.2" fill="#b8b8ff"/><ellipse cx="1695.9" cy="2820.8" rx="13.6" ry="12.85" fill="#0000ff"/><circle cx="1691.1" cy="2816.9" r="5.8" fill="#7070ff"/><circle cx="1691.1" cy="2816.9" r="3.2" fill="#b8b8ff"/><ellipse cx="1722.8" cy="2819.5" rx="13.6" ry="12.85" fill="#0000ff"/><circle cx="1718.0" cy="2815.6" r="5.8" fill="#7070ff"/><circle cx="1718.0" cy="2815.6" r="3.2" fill="#b8b8ff"/><ellipse cx="1749.6" cy="2816.8" rx="13.6" ry="12.85" fill="#0000ff"/><circle cx="1744.8" cy="2812.9" r="5.8" fill="#7070ff"/><circle cx="1744.8" cy="2812.9" r="3.2" fill="#b8b8ff"/><ellipse cx="1776.5" cy="2814.6" rx="13.6" ry="12.85" fill="#0000ff"/><circle cx="1771.7" cy="2810.7" r="5.8" fill="#7070ff"/><circle cx="1771.7" cy="2810.7" r="3.2" fill="#b8b8ff"/><ellipse cx="1803.3" cy="2810.0" rx="13.6" ry="12.85" fill="#0000ff"/><circle cx="1798.5" cy="2806.1" r="5.8" fill="#7070ff"/><circle cx="1798.5" cy="2806.1" r="3.2" fill="#b8b8ff"/><ellipse cx="1830.2" cy="2803.9" rx="13.6" ry="12.85" fill="#0000ff"/><circle cx="1825.4" cy="2800.0" r="5.8" fill="#7070ff"/><circle cx="1825.4" cy="2800.0" r="3.2" fill="#b8b8ff"/><ellipse cx="1857.0" cy="2797.8" rx="13.6" ry="12.85" fill="#0000ff"/><circle cx="1852.2" cy="2793.9" r="5.8" fill="#7070ff"/><circle cx="1852.2" cy="2793.9" r="3.2" fill="#b8b8ff"/><ellipse cx="1883.9" cy="2789.0" rx="13.6" ry="12.85" fill="#0000ff"/><circle cx="1879.1" cy="2785.1" r="5.8" fill="#7070ff"/><circle cx="1879.1" cy="2785.1" r="3.2" fill="#b8b8ff"/><ellipse cx="1910.7" cy="2779.8" rx="13.6" ry="12.85" fill="#0000ff"/><circle cx="1905.9" cy="2775.9" r="5.8" fill="#7070ff"/><circle cx="1905.9" cy="2775.9" r="3.2" fill="#b8b8ff"/><ellipse cx="1937.6" cy="2767.9" rx="13.6" ry="12.85" fill="#0000ff"/><circle cx="1932.8" cy="2764.0" r="5.8" fill="#7070ff"/><circle cx="1932.8" cy="2764.0" r="3.2" fill="#b8b8ff"/><ellipse cx="1964.4" cy="2752.9" rx="13.6" ry="12.85" fill="#0000ff"/><circle cx="1959.6" cy="2749.0" r="5.8" fill="#7070ff"/><circle cx="1959.6" cy="2749.0" r="3.2" fill="#b8b8ff"/><ellipse cx="1991.3" cy="2736.8" rx="13.6" ry="12.85" fill="#0000ff"/><circle cx="1986.5" cy="2732.9" r="5.8" fill="#7070ff"/><circle cx="1986.5" cy="2732.9" r="3.2" fill="#b8b8ff"/><ellipse cx="2018.1" cy="2714.0" rx="13.6" ry="12.85" fill="#0000ff"/><circle cx="2013.3" cy="2710.1" r="5.8" fill="#7070ff"/><circle cx="2013.3" cy="2710.1" r="3.2" fill="#b8b8ff"/><ellipse cx="2045.0" cy="2688.3" rx="13.6" ry="12.85" fill="#0000ff"/><circle cx="2040.2" cy="2684.4" r="5.8" fill="#7070ff"/><circle cx="2040.2" cy="2684.4" r="3.2" fill="#b8b8ff"/><ellipse cx="2071.8" cy="2655.9" rx="13.6" ry="12.85" fill="#0000ff"/><circle cx="2067.0" cy="2652.0" r="5.8" fill="#7070ff"/><circle cx="2067.0" cy="2652.0" r="3.2" fill="#b8b8ff"/></g>
<g stroke="#008000" stroke-width="4.3" stroke-linecap="round" fill="none"><path d="M460.2 2946.3L500.1 2900.9M528.4 2869.9L566.7 2829.9M591.7 2796.5L635.7 2720.3M654.3 2682.7L700.9 2570.8M715.7 2531.5L762.9 2391.4M776.7 2351.8L820.6 2230.7M836.6 2192.0L873.7 2113.1M898.3 2080.2L918.8 2061.9M952.6 2058.6L965.7 2066.1M995.3 2094.3L1019.2 2131.1M1039.6 2167.7L1067.0 2226.3M1084.3 2264.5L1109.8 2322.6M1127.0 2360.9L1149.9 2410.4M1168.3 2448.2L1187.8 2485.7M1208.2 2522.4L1223.5 2548.1M1246.2 2583.4L1257.4 2599.9M1282.8 2633.3L1290.3 2642.4M1318.4 2673.6L1321.7 2676.9M1351.9 2706.0L1352.5 2706.5M2060.6 2708.7L2060.9 2708.4"/></g><g><ellipse cx="444.0" cy="2960.0" rx="13.6" ry="12.85" fill="#008000"/><circle cx="439.2" cy="2956.1" r="5.8" fill="#2db870"/><circle cx="439.2" cy="2956.1" r="3.2" fill="#a3dbb8"/><ellipse cx="511.5" cy="2883.0" rx="13.6" ry="12.85" fill="#008000"/><circle cx="506.7" cy="2879.1" r="5.8" fill="#2db870"/><circle cx="506.7" cy="2879.1" r="3.2" fill="#a3dbb8"/><ellipse cx="578.8" cy="2812.6" rx="13.6" ry="12.85" fill="#008000"/><circle cx="574.0" cy="2808.7" r="5.8" fill="#2db870"/><circle cx="574.0" cy="2808.7" r="3.2" fill="#a3dbb8"/><ellipse cx="643.8" cy="2700.0" rx="13.6" ry="12.85" fill="#008000"/><circle cx="639.0" cy="2696.1" r="5.8" fill="#2db870"/><circle cx="639.0" cy="2696.1" r="3.2" fill="#a3dbb8"/><ellipse cx="706.6" cy="2549.3" rx="13.6" ry="12.85" fill="#008000"/><circle cx="701.8" cy="2545.4" r="5.8" fill="#2db870"/><circle cx="701.8" cy="2545.4" r="3.2" fill="#a3dbb8"/><ellipse cx="767.2" cy="2369.4" rx="13.6" ry="12.85" fill="#008000"/><circle cx="762.4" cy="2365.5" r="5.8" fill="#2db870"/><circle cx="762.4" cy="2365.5" r="3.2" fill="#a3dbb8"/><ellipse cx="825.3" cy="2208.9" rx="13.6" ry="12.85" fill="#008000"/><circle cx="820.5" cy="2205.0" r="5.8" fill="#2db870"/><circle cx="820.5" cy="2205.0" r="3.2" fill="#a3dbb8"/><ellipse cx="880.2" cy="2092.0" rx="13.6" ry="12.85" fill="#008000"/><circle cx="875.4" cy="2088.1" r="5.8" fill="#2db870"/><circle cx="875.4" cy="2088.1" r="3.2" fill="#a3dbb8"/><ellipse cx="932.1" cy="2045.9" rx="13.6" ry="12.85" fill="#008000"/><circle cx="927.3" cy="2042.0" r="5.8" fill="#2db870"/><circle cx="927.3" cy="2042.0" r="3.2" fill="#a3dbb8"/><ellipse cx="981.4" cy="2074.6" rx="13.6" ry="12.85" fill="#008000"/><circle cx="976.6" cy="2070.7" r="5.8" fill="#2db870"/><circle cx="976.6" cy="2070.7" r="3.2" fill="#a3dbb8"/><ellipse cx="1028.3" cy="2146.6" rx="13.6" ry="12.85" fill="#008000"/><circle cx="1023.5" cy="2142.7" r="5.8" fill="#2db870"/><circle cx="1023.5" cy="2142.7" r="3.2" fill="#a3dbb8"/><ellipse cx="1073.5" cy="2243.2" rx="13.6" ry="12.85" fill="#008000"/><circle cx="1068.7" cy="2239.3" r="5.8" fill="#2db870"/><circle cx="1068.7" cy="2239.3" r="3.2" fill="#a3dbb8"/><ellipse cx="1115.8" cy="2339.7" rx="13.6" ry="12.85" fill="#008000"/><circle cx="1111.0" cy="2335.8" r="5.8" fill="#2db870"/><circle cx="1111.0" cy="2335.8" r="3.2" fill="#a3dbb8"/><ellipse cx="1156.3" cy="2427.4" rx="13.6" ry="12.85" fill="#008000"/><circle cx="1151.5" cy="2423.5" r="5.8" fill="#2db870"/><circle cx="1151.5" cy="2423.5" r="3.2" fill="#a3dbb8"/><ellipse cx="1195.0" cy="2502.3" rx="13.6" ry="12.85" fill="#008000"/><circle cx="1190.2" cy="2498.4" r="5.8" fill="#2db870"/><circle cx="1190.2" cy="2498.4" r="3.2" fill="#a3dbb8"/><ellipse cx="1231.9" cy="2564.0" rx="13.6" ry="12.85" fill="#008000"/><circle cx="1227.1" cy="2560.1" r="5.8" fill="#2db870"/><circle cx="1227.1" cy="2560.1" r="3.2" fill="#a3dbb8"/><ellipse cx="1266.9" cy="2615.1" rx="13.6" ry="12.85" fill="#008000"/><circle cx="1262.1" cy="2611.2" r="5.8" fill="#2db870"/><circle cx="1262.1" cy="2611.2" r="3.2" fill="#a3dbb8"/><ellipse cx="1301.4" cy="2656.4" rx="13.6" ry="12.85" fill="#008000"/><circle cx="1296.6" cy="2652.5" r="5.8" fill="#2db870"/><circle cx="1296.6" cy="2652.5" r="3.2" fill="#a3dbb8"/><ellipse cx="1333.9" cy="2689.9" rx="13.6" ry="12.85" fill="#008000"/><circle cx="1329.1" cy="2686.0" r="5.8" fill="#2db870"/><circle cx="1329.1" cy="2686.0" r="3.2" fill="#a3dbb8"/><ellipse cx="1365.7" cy="2718.4" rx="13.6" ry="12.85" fill="#008000"/><circle cx="1360.9" cy="2714.5" r="5.8" fill="#2db870"/><circle cx="1360.9" cy="2714.5" r="3.2" fill="#a3dbb8"/><ellipse cx="1395.7" cy="2739.9" rx="13.6" ry="12.85" fill="#008000"/><circle cx="1390.9" cy="2736.0" r="5.8" fill="#2db870"/><circle cx="1390.9" cy="2736.0" r="3.2" fill="#a3dbb8"/><ellipse cx="1425.0" cy="2758.6" rx="13.6" ry="12.85" fill="#008000"/><circle cx="1420.2" cy="2754.7" r="5.8" fill="#2db870"/><circle cx="1420.2" cy="2754.7" r="3.2" fill="#a3dbb8"/><ellipse cx="1453.7" cy="2774.7" rx="13.6" ry="12.85" fill="#008000"/><circle cx="1448.9" cy="2770.8" r="5.8" fill="#2db870"/><circle cx="1448.9" cy="2770.8" r="3.2" fill="#a3dbb8"/><ellipse cx="1481.6" cy="2784.9" rx="13.6" ry="12.85" fill="#008000"/><circle cx="1476.8" cy="2781.0" r="5.8" fill="#2db870"/><circle cx="1476.8" cy="2781.0" r="3.2" fill="#a3dbb8"/><ellipse cx="1508.2" cy="2795.2" rx="13.6" ry="12.85" fill="#008000"/><circle cx="1503.4" cy="2791.3" r="5.8" fill="#2db870"/><circle cx="1503.4" cy="2791.3" r="3.2" fill="#a3dbb8"/><ellipse cx="1534.8" cy="2804.0" rx="13.6" ry="12.85" fill="#008000"/><circle cx="1530.0" cy="2800.1" r="5.8" fill="#2db870"/><circle cx="1530.0" cy="2800.1" r="3.2" fill="#a3dbb8"/><ellipse cx="1561.7" cy="2811.0" rx="13.6" ry="12.85" fill="#008000"/><circle cx="1556.9" cy="2807.1" r="5.8" fill="#2db870"/><circle cx="1556.9" cy="2807.1" r="3.2" fill="#a3dbb8"/><ellipse cx="1588.5" cy="2817.0" rx="13.6" ry="12.85" fill="#008000"/><circle cx="1583.7" cy="2813.1" r="5.8" fill="#2db870"/><circle cx="1583.7" cy="2813.1" r="3.2" fill="#a3dbb8"/><ellipse cx="1615.4" cy="2820.2" rx="13.6" ry="12.85" fill="#008000"/><circle cx="1610.6" cy="2816.3" r="5.8" fill="#2db870"/><circle cx="1610.6" cy="2816.3" r="3.2" fill="#a3dbb8"/><ellipse cx="1642.2" cy="2823.8" rx="13.6" ry="12.85" fill="#008000"/><circle cx="1637.4" cy="2819.9" r="5.8" fill="#2db870"/><circle cx="1637.4" cy="2819.9" r="3.2" fill="#a3dbb8"/><ellipse cx="1669.1" cy="2825.9" rx="13.6" ry="12.85" fill="#008000"/><circle cx="1664.3" cy="2822.0" r="5.8" fill="#2db870"/><circle cx="1664.3" cy="2822.0" r="3.2" fill="#a3dbb8"/><ellipse cx="1695.9" cy="2828.0" rx="13.6" ry="12.85" fill="#008000"/><circle cx="1691.1" cy="2824.1" r="5.8" fill="#2db870"/><circle cx="1691.1" cy="2824.1" r="3.2" fill="#a3dbb8"/><ellipse cx="1722.8" cy="2828.4" rx="13.6" ry="12.85" fill="#008000"/><circle cx="1718.0" cy="2824.5" r="5.8" fill="#2db870"/><circle cx="1718.0" cy="2824.5" r="3.2" fill="#a3dbb8"/><ellipse cx="1749.6" cy="2828.8" rx="13.6" ry="12.85" fill="#008000"/><circle cx="1744.8" cy="2824.9" r="5.8" fill="#2db870"/><circle cx="1744.8" cy="2824.9" r="3.2" fill="#a3dbb8"/><ellipse cx="1776.5" cy="2828.0" rx="13.6" ry="12.85" fill="#008000"/><circle cx="1771.7" cy="2824.1" r="5.8" fill="#2db870"/><circle cx="1771.7" cy="2824.1" r="3.2" fill="#a3dbb8"/><ellipse cx="1803.3" cy="2825.0" rx="13.6" ry="12.85" fill="#008000"/><circle cx="1798.5" cy="2821.1" r="5.8" fill="#2db870"/><circle cx="1798.5" cy="2821.1" r="3.2" fill="#a3dbb8"/><ellipse cx="1830.2" cy="2822.1" rx="13.6" ry="12.85" fill="#008000"/><circle cx="1825.4" cy="2818.2" r="5.8" fill="#2db870"/><circle cx="1825.4" cy="2818.2" r="3.2" fill="#a3dbb8"/><ellipse cx="1857.0" cy="2817.1" rx="13.6" ry="12.85" fill="#008000"/><circle cx="1852.2" cy="2813.2" r="5.8" fill="#2db870"/><circle cx="1852.2" cy="2813.2" r="3.2" fill="#a3dbb8"/><ellipse cx="1883.9" cy="2811.0" rx="13.6" ry="12.85" fill="#008000"/><circle cx="1879.1" cy="2807.1" r="5.8" fill="#2db870"/><circle cx="1879.1" cy="2807.1" r="3.2" fill="#a3dbb8"/><ellipse cx="1910.7" cy="2803.0" rx="13.6" ry="12.85" fill="#008000"/><circle cx="1905.9" cy="2799.1" r="5.8" fill="#2db870"/><circle cx="1905.9" cy="2799.1" r="3.2" fill="#a3dbb8"/><ellipse cx="1937.6" cy="2794.8" rx="13.6" ry="12.85" fill="#008000"/><circle cx="1932.8" cy="2790.9" r="5.8" fill="#2db870"/><circle cx="1932.8" cy="2790.9" r="3.2" fill="#a3dbb8"/><ellipse cx="1964.4" cy="2783.1" rx="13.6" ry="12.85" fill="#008000"/><circle cx="1959.6" cy="2779.2" r="5.8" fill="#2db870"/><circle cx="1959.6" cy="2779.2" r="3.2" fill="#a3dbb8"/><ellipse cx="1991.3" cy="2765.9" rx="13.6" ry="12.85" fill="#008000"/><circle cx="1986.5" cy="2762.0" r="5.8" fill="#2db870"/><circle cx="1986.5" cy="2762.0" r="3.2" fill="#a3dbb8"/><ellipse cx="2018.1" cy="2748.1" rx="13.6" ry="12.85" fill="#008000"/><circle cx="2013.3" cy="2744.2" r="5.8" fill="#2db870"/><circle cx="2013.3" cy="2744.2" r="3.2" fill="#a3dbb8"/><ellipse cx="2045.0" cy="2722.9" rx="13.6" ry="12.85" fill="#008000"/><circle cx="2040.2" cy="2719.0" r="5.8" fill="#2db870"/><circle cx="2040.2" cy="2719.0" r="3.2" fill="#a3dbb8"/><ellipse cx="2071.8" cy="2690.0" rx="13.6" ry="12.85" fill="#008000"/><circle cx="2067.0" cy="2686.1" r="5.8" fill="#2db870"/><circle cx="2067.0" cy="2686.1" r="3.2" fill="#a3dbb8"/></g>
</g>
<text transform="translate(0.00 1742.30) scale(1 1.04)"><tspan x="422.20" y="0.00" font-size="56" text-anchor="end">35</tspan></text>
<text transform="translate(0.00 1902.94) scale(1 1.04)"><tspan x="422.20" y="0.00" font-size="56" text-anchor="end">30</tspan></text>
<text transform="translate(0.00 2063.58) scale(1 1.04)"><tspan x="422.20" y="0.00" font-size="56" text-anchor="end">25</tspan></text>
<text transform="translate(0.00 2224.22) scale(1 1.04)"><tspan x="422.20" y="0.00" font-size="56" text-anchor="end">20</tspan></text>
<text transform="translate(0.00 2384.86) scale(1 1.04)"><tspan x="422.20" y="0.00" font-size="56" text-anchor="end">15</tspan></text>
<text transform="translate(0.00 2545.50) scale(1 1.04)"><tspan x="422.20" y="0.00" font-size="56" text-anchor="end">10</tspan></text>
<text transform="translate(0.00 2706.14) scale(1 1.04)"><tspan x="422.20" y="0.00" font-size="56" text-anchor="end">5</tspan></text>
<text transform="translate(0.00 2866.78) scale(1 1.04)"><tspan x="422.20" y="0.00" font-size="56" text-anchor="end">0</tspan></text>
<text transform="translate(0.00 2927.00) scale(1 1.04)"><tspan x="402.86" y="0.00" font-size="56">10</tspan><tspan x="465.63" y="-27.60" font-size="31.5">-2</tspan></text>
<text transform="translate(0.00 2927.00) scale(1 1.04)"><tspan x="673.53" y="0.00" font-size="56">10</tspan><tspan x="736.30" y="-27.60" font-size="31.5">-1</tspan></text>
<text transform="translate(0.00 2927.00) scale(1 1.04)"><tspan x="949.39" y="0.00" font-size="56">10</tspan><tspan x="1012.17" y="-27.60" font-size="31.5">0</tspan></text>
<text transform="translate(0.00 2927.00) scale(1 1.04)"><tspan x="1220.06" y="0.00" font-size="56">10</tspan><tspan x="1282.83" y="-27.60" font-size="31.5">1</tspan></text>
<text transform="translate(0.00 2927.00) scale(1 1.04)"><tspan x="1490.73" y="0.00" font-size="56">10</tspan><tspan x="1553.50" y="-27.60" font-size="31.5">2</tspan></text>
<text transform="translate(0.00 2927.00) scale(1 1.04)"><tspan x="1761.39" y="0.00" font-size="56">10</tspan><tspan x="1824.17" y="-27.60" font-size="31.5">3</tspan></text>
<text transform="translate(0.00 2927.00) scale(1 1.04)"><tspan x="2032.06" y="0.00" font-size="56">10</tspan><tspan x="2094.83" y="-27.60" font-size="31.5">4</tspan></text>
<g stroke="#000000" stroke-width="4.6" stroke-linecap="round"><line x1="1249.2" y1="1802.7" x2="1290.5" y2="1802.7"/><line x1="1336.9" y1="1802.7" x2="1378.6" y2="1802.7"/></g>
<ellipse cx="1311.2" cy="1801.5" rx="13.6" ry="12.85" fill="#000000"/><circle cx="1306.4" cy="1797.6" r="5.8" fill="#808080"/><circle cx="1306.4" cy="1797.6" r="3.2" fill="#c8c8c8"/>
<g stroke="#ff0000" stroke-width="4.6" stroke-linecap="round"><line x1="1249.2" y1="1870.7" x2="1290.5" y2="1870.7"/><line x1="1336.9" y1="1870.7" x2="1378.6" y2="1870.7"/></g>
<ellipse cx="1311.2" cy="1869.5" rx="13.6" ry="12.85" fill="#ff0000"/><circle cx="1306.4" cy="1865.6" r="5.8" fill="#ff7070"/><circle cx="1306.4" cy="1865.6" r="3.2" fill="#ffb8b8"/>
<g stroke="#0000ff" stroke-width="4.6" stroke-linecap="round"><line x1="1249.2" y1="1937.5" x2="1290.5" y2="1937.5"/><line x1="1336.9" y1="1937.5" x2="1378.6" y2="1937.5"/></g>
<ellipse cx="1311.2" cy="1936.3" rx="13.6" ry="12.85" fill="#0000ff"/><circle cx="1306.4" cy="1932.4" r="5.8" fill="#7070ff"/><circle cx="1306.4" cy="1932.4" r="3.2" fill="#b8b8ff"/>
<g stroke="#008000" stroke-width="4.6" stroke-linecap="round"><line x1="1249.2" y1="2023.7" x2="1290.5" y2="2023.7"/><line x1="1336.9" y1="2023.7" x2="1378.6" y2="2023.7"/></g>
<ellipse cx="1311.2" cy="2022.5" rx="13.6" ry="12.85" fill="#008000"/><circle cx="1306.4" cy="2018.6" r="5.8" fill="#2db870"/><circle cx="1306.4" cy="2018.6" r="3.2" fill="#a3dbb8"/>
<text transform="translate(0.00 1822.00) scale(1 1.04)"><tspan x="1394.50" y="0.00" font-size="55.3">Bare steel</tspan></text>
<text transform="translate(0.00 1890.00) scale(1 1.04)"><tspan x="1393.25" y="0.96" font-size="48.56" textLength="35.05" lengthAdjust="spacingAndGlyphs" class="sym" stroke="#000" stroke-width="1.6">α</tspan><tspan x="1425.55" y="3.85" font-size="55.3" textLength="30.33" lengthAdjust="spacingAndGlyphs">–</tspan><tspan x="1456.20" y="0.00" font-size="55.3">FeOOH coated steel</tspan></text>
<text transform="translate(0.00 1956.80) scale(1 1.04)"><tspan x="1394.20" y="0.00" font-size="55.3">Fe</tspan><tspan x="1458.40" y="20.58" font-size="33">3</tspan><tspan x="1477.80" y="0.00" font-size="55.3">O</tspan><tspan x="1519.30" y="20.58" font-size="33">4</tspan> <tspan x="1548.00" y="0.00" font-size="55.3">coated steel</tspan></text>
<text transform="translate(0.00 2043.00) scale(1 1.04)"><tspan x="1394.20" y="0.00" font-size="55.3">Fe</tspan><tspan x="1458.40" y="20.58" font-size="33">2</tspan><tspan x="1477.80" y="0.00" font-size="55.3">O</tspan><tspan x="1519.30" y="20.58" font-size="33">3</tspan> <tspan x="1548.00" y="0.00" font-size="55.3">coated steel</tspan></text>
</g>
<text transform="translate(0.00 1380.00) scale(1 1.04)"><tspan x="980.75" y="0.00" font-size="76" textLength="388.96" lengthAdjust="spacingAndGlyphs">Frequency</tspan> <tspan x="1393.63" y="0.00" font-size="76" textLength="22.54" lengthAdjust="spacingAndGlyphs">(</tspan><tspan x="1418.67" y="0.00" font-size="76" textLength="97.30" lengthAdjust="spacingAndGlyphs">Hz</tspan><tspan x="1516.83" y="0.00" font-size="76" textLength="22.89" lengthAdjust="spacingAndGlyphs">)</tspan></text>
<text transform="translate(0.00 3040.90) scale(1 1.04)"><tspan x="979.73" y="0.00" font-size="76" textLength="390.78" lengthAdjust="spacingAndGlyphs">Frequency</tspan> <tspan x="1394.13" y="0.00" font-size="76" textLength="22.54" lengthAdjust="spacingAndGlyphs">(</tspan><tspan x="1419.17" y="0.00" font-size="76" textLength="97.30" lengthAdjust="spacingAndGlyphs">Hz</tspan><tspan x="1517.33" y="0.00" font-size="76" textLength="22.89" lengthAdjust="spacingAndGlyphs">)</tspan></text>
<text transform="translate(0.00 1542.30) scale(1 1.04)"><tspan x="1116.06" y="0.00" font-size="100" textLength="30.32" lengthAdjust="spacingAndGlyphs">(</tspan><tspan x="1151.78" y="0.00" font-size="100" textLength="53.61" lengthAdjust="spacingAndGlyphs">a</tspan><tspan x="1213.91" y="0.00" font-size="100" textLength="30.68" lengthAdjust="spacingAndGlyphs">)</tspan></text>
<text transform="translate(0.00 3185.10) scale(1 1.04)"><tspan x="1140.16" y="0.00" font-size="100" textLength="30.32" lengthAdjust="spacingAndGlyphs">(</tspan><tspan x="1175.81" y="0.00" font-size="100" textLength="64.73" lengthAdjust="spacingAndGlyphs">b</tspan><tspan x="1244.11" y="0.00" font-size="100" textLength="30.32" lengthAdjust="spacingAndGlyphs">)</tspan></text>
<text transform="translate(130.00 1029.00) rotate(-90) scale(1 1.04)"><tspan x="-5.06" y="0.00" font-size="76" textLength="395.45" lengthAdjust="spacingAndGlyphs">Impedance</tspan> <tspan x="409.29" y="0.00" font-size="76" textLength="87.31" lengthAdjust="spacingAndGlyphs">IZI</tspan> <tspan x="518.28" y="0.00" font-size="76" textLength="22.89" lengthAdjust="spacingAndGlyphs">(</tspan><tspan x="542.49" y="0.00" font-size="68.75" textLength="56.66" lengthAdjust="spacingAndGlyphs" class="sym" style="font-weight:bold">Ω</tspan><tspan x="596.39" y="6.97" font-size="60.7" stroke="#000" stroke-width="4.8" stroke-linejoin="miter">_</tspan><tspan x="628.62" y="0.00" font-size="76" textLength="113.86" lengthAdjust="spacingAndGlyphs">cm</tspan><tspan x="739.79" y="-41.15" font-size="46.3">2</tspan><tspan x="768.14" y="0.00" font-size="76" textLength="21.71" lengthAdjust="spacingAndGlyphs">)</tspan></text>
<text transform="translate(264.00 2625.20) rotate(-90) scale(1 1.04)"><tspan x="-3.37" y="0.00" font-size="76" textLength="28.72" lengthAdjust="spacingAndGlyphs">-</tspan><tspan x="21.23" y="0.00" font-size="76" textLength="223.16" lengthAdjust="spacingAndGlyphs">Phase</tspan> <tspan x="263.87" y="0.00" font-size="76" textLength="198.93" lengthAdjust="spacingAndGlyphs">angle</tspan> <tspan x="481.86" y="0.00" font-size="76" textLength="22.30" lengthAdjust="spacingAndGlyphs">(</tspan><tspan x="504.11" y="0.00" font-size="69" textLength="40.48" lengthAdjust="spacingAndGlyphs">θ</tspan><tspan x="546.13" y="0.00" font-size="76" textLength="22.54" lengthAdjust="spacingAndGlyphs">)</tspan></text>
</svg></body></html>
